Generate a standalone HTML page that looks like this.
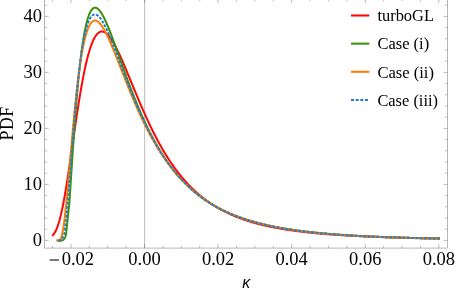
<!DOCTYPE html><html><head><meta charset="utf-8"><style>html,body{margin:0;padding:0;background:#fff;}svg{display:block;will-change:transform;}text{font-family:"Liberation Serif",serif;fill:#000;}text.kap{font-family:"Liberation Sans",sans-serif;font-style:italic;}</style></head><body>
<svg width="456" height="294" viewBox="0 0 456 294">
<rect width="456" height="294" fill="#fff"/>
<line x1="144.65" y1="-1.0" x2="144.65" y2="248.05" stroke="#aaa" stroke-width="0.8"/>
<rect x="44.6" y="-1.0" width="402.79999999999995" height="249.05" stroke="#666" stroke-width="0.47" fill="none"/>
<g stroke="#666" stroke-width="0.45" fill="none">
<line x1="52.52" y1="248.05" x2="52.52" y2="245.75"/>
<line x1="52.52" y1="-1.0" x2="52.52" y2="1.2999999999999998"/>
<line x1="70.92" y1="248.05" x2="70.92" y2="244.05"/>
<line x1="70.92" y1="-1.0" x2="70.92" y2="3.0"/>
<line x1="89.31" y1="248.05" x2="89.31" y2="245.75"/>
<line x1="89.31" y1="-1.0" x2="89.31" y2="1.2999999999999998"/>
<line x1="107.71" y1="248.05" x2="107.71" y2="245.75"/>
<line x1="107.71" y1="-1.0" x2="107.71" y2="1.2999999999999998"/>
<line x1="126.11" y1="248.05" x2="126.11" y2="245.75"/>
<line x1="126.11" y1="-1.0" x2="126.11" y2="1.2999999999999998"/>
<line x1="144.50" y1="248.05" x2="144.50" y2="244.05"/>
<line x1="144.50" y1="-1.0" x2="144.50" y2="3.0"/>
<line x1="162.90" y1="248.05" x2="162.90" y2="245.75"/>
<line x1="162.90" y1="-1.0" x2="162.90" y2="1.2999999999999998"/>
<line x1="181.29" y1="248.05" x2="181.29" y2="245.75"/>
<line x1="181.29" y1="-1.0" x2="181.29" y2="1.2999999999999998"/>
<line x1="199.69" y1="248.05" x2="199.69" y2="245.75"/>
<line x1="199.69" y1="-1.0" x2="199.69" y2="1.2999999999999998"/>
<line x1="218.08" y1="248.05" x2="218.08" y2="244.05"/>
<line x1="218.08" y1="-1.0" x2="218.08" y2="3.0"/>
<line x1="236.48" y1="248.05" x2="236.48" y2="245.75"/>
<line x1="236.48" y1="-1.0" x2="236.48" y2="1.2999999999999998"/>
<line x1="254.87" y1="248.05" x2="254.87" y2="245.75"/>
<line x1="254.87" y1="-1.0" x2="254.87" y2="1.2999999999999998"/>
<line x1="273.26" y1="248.05" x2="273.26" y2="245.75"/>
<line x1="273.26" y1="-1.0" x2="273.26" y2="1.2999999999999998"/>
<line x1="291.66" y1="248.05" x2="291.66" y2="244.05"/>
<line x1="291.66" y1="-1.0" x2="291.66" y2="3.0"/>
<line x1="310.06" y1="248.05" x2="310.06" y2="245.75"/>
<line x1="310.06" y1="-1.0" x2="310.06" y2="1.2999999999999998"/>
<line x1="328.45" y1="248.05" x2="328.45" y2="245.75"/>
<line x1="328.45" y1="-1.0" x2="328.45" y2="1.2999999999999998"/>
<line x1="346.85" y1="248.05" x2="346.85" y2="245.75"/>
<line x1="346.85" y1="-1.0" x2="346.85" y2="1.2999999999999998"/>
<line x1="365.24" y1="248.05" x2="365.24" y2="244.05"/>
<line x1="365.24" y1="-1.0" x2="365.24" y2="3.0"/>
<line x1="383.63" y1="248.05" x2="383.63" y2="245.75"/>
<line x1="383.63" y1="-1.0" x2="383.63" y2="1.2999999999999998"/>
<line x1="402.03" y1="248.05" x2="402.03" y2="245.75"/>
<line x1="402.03" y1="-1.0" x2="402.03" y2="1.2999999999999998"/>
<line x1="420.43" y1="248.05" x2="420.43" y2="245.75"/>
<line x1="420.43" y1="-1.0" x2="420.43" y2="1.2999999999999998"/>
<line x1="438.82" y1="248.05" x2="438.82" y2="244.05"/>
<line x1="438.82" y1="-1.0" x2="438.82" y2="3.0"/>
<line x1="44.6" y1="240.40" x2="48.6" y2="240.40"/>
<line x1="447.4" y1="240.40" x2="443.4" y2="240.40"/>
<line x1="44.6" y1="229.20" x2="46.9" y2="229.20"/>
<line x1="447.4" y1="229.20" x2="445.09999999999997" y2="229.20"/>
<line x1="44.6" y1="218.00" x2="46.9" y2="218.00"/>
<line x1="447.4" y1="218.00" x2="445.09999999999997" y2="218.00"/>
<line x1="44.6" y1="206.80" x2="46.9" y2="206.80"/>
<line x1="447.4" y1="206.80" x2="445.09999999999997" y2="206.80"/>
<line x1="44.6" y1="195.60" x2="46.9" y2="195.60"/>
<line x1="447.4" y1="195.60" x2="445.09999999999997" y2="195.60"/>
<line x1="44.6" y1="184.40" x2="48.6" y2="184.40"/>
<line x1="447.4" y1="184.40" x2="443.4" y2="184.40"/>
<line x1="44.6" y1="173.20" x2="46.9" y2="173.20"/>
<line x1="447.4" y1="173.20" x2="445.09999999999997" y2="173.20"/>
<line x1="44.6" y1="162.00" x2="46.9" y2="162.00"/>
<line x1="447.4" y1="162.00" x2="445.09999999999997" y2="162.00"/>
<line x1="44.6" y1="150.80" x2="46.9" y2="150.80"/>
<line x1="447.4" y1="150.80" x2="445.09999999999997" y2="150.80"/>
<line x1="44.6" y1="139.60" x2="46.9" y2="139.60"/>
<line x1="447.4" y1="139.60" x2="445.09999999999997" y2="139.60"/>
<line x1="44.6" y1="128.40" x2="48.6" y2="128.40"/>
<line x1="447.4" y1="128.40" x2="443.4" y2="128.40"/>
<line x1="44.6" y1="117.20" x2="46.9" y2="117.20"/>
<line x1="447.4" y1="117.20" x2="445.09999999999997" y2="117.20"/>
<line x1="44.6" y1="106.00" x2="46.9" y2="106.00"/>
<line x1="447.4" y1="106.00" x2="445.09999999999997" y2="106.00"/>
<line x1="44.6" y1="94.80" x2="46.9" y2="94.80"/>
<line x1="447.4" y1="94.80" x2="445.09999999999997" y2="94.80"/>
<line x1="44.6" y1="83.60" x2="46.9" y2="83.60"/>
<line x1="447.4" y1="83.60" x2="445.09999999999997" y2="83.60"/>
<line x1="44.6" y1="72.40" x2="48.6" y2="72.40"/>
<line x1="447.4" y1="72.40" x2="443.4" y2="72.40"/>
<line x1="44.6" y1="61.20" x2="46.9" y2="61.20"/>
<line x1="447.4" y1="61.20" x2="445.09999999999997" y2="61.20"/>
<line x1="44.6" y1="50.00" x2="46.9" y2="50.00"/>
<line x1="447.4" y1="50.00" x2="445.09999999999997" y2="50.00"/>
<line x1="44.6" y1="38.80" x2="46.9" y2="38.80"/>
<line x1="447.4" y1="38.80" x2="445.09999999999997" y2="38.80"/>
<line x1="44.6" y1="27.60" x2="46.9" y2="27.60"/>
<line x1="447.4" y1="27.60" x2="445.09999999999997" y2="27.60"/>
<line x1="44.6" y1="16.40" x2="48.6" y2="16.40"/>
<line x1="447.4" y1="16.40" x2="443.4" y2="16.40"/>
<line x1="44.6" y1="5.20" x2="46.9" y2="5.20"/>
<line x1="447.4" y1="5.20" x2="445.09999999999997" y2="5.20"/>
</g>
<path d="M52.10,235.81 L52.20,235.74 L52.30,235.66 L52.40,235.57 L52.50,235.48 L52.60,235.39 L52.70,235.30 L52.80,235.20 L52.90,235.10 L53.00,235.00 L53.10,234.89 L53.20,234.78 L53.30,234.67 L53.40,234.55 L53.50,234.43 L53.60,234.31 L53.70,234.18 L53.80,234.05 L53.90,233.91 L54.00,233.77 L54.10,233.63 L54.20,233.49 L54.30,233.34 L54.40,233.19 L54.50,233.03 L54.60,232.87 L54.70,232.71 L54.80,232.55 L54.90,232.38 L55.00,232.20 L55.10,232.02 L55.20,231.84 L55.30,231.66 L55.40,231.47 L55.50,231.28 L55.60,231.08 L55.70,230.88 L55.80,230.68 L55.90,230.47 L56.00,230.26 L56.10,230.04 L56.20,229.82 L56.30,229.60 L56.40,229.37 L56.50,229.14 L56.60,228.90 L56.70,228.66 L56.80,228.42 L56.90,228.17 L57.00,227.92 L57.10,227.66 L57.20,227.40 L57.30,227.14 L57.40,226.87 L57.50,226.60 L57.60,226.32 L57.70,226.04 L57.80,225.76 L57.90,225.47 L58.00,225.17 L58.10,224.87 L58.20,224.57 L58.30,224.26 L58.40,223.95 L58.50,223.64 L58.60,223.32 L58.70,223.00 L58.80,222.67 L58.90,222.33 L59.00,222.00 L59.10,221.66 L59.20,221.31 L59.30,220.96 L59.40,220.61 L59.50,220.25 L59.60,219.89 L59.70,219.52 L59.80,219.15 L59.90,218.77 L60.00,218.39 L60.10,218.01 L60.20,217.62 L60.30,217.23 L60.40,216.83 L60.50,216.43 L60.60,216.02 L60.70,215.61 L60.80,215.20 L60.90,214.78 L61.00,214.36 L61.10,213.93 L61.20,213.50 L61.30,213.06 L61.40,212.62 L61.50,212.18 L61.60,211.73 L61.70,211.28 L61.80,210.82 L61.90,210.36 L62.00,209.90 L62.10,209.43 L62.20,208.96 L62.30,208.48 L62.40,208.00 L62.50,207.52 L62.60,207.03 L62.70,206.54 L62.80,206.04 L62.90,205.54 L63.00,205.04 L63.10,204.53 L63.20,204.02 L63.30,203.50 L63.40,202.98 L63.50,202.46 L63.60,201.93 L63.70,201.40 L63.80,200.87 L63.90,200.33 L64.00,199.79 L64.10,199.25 L64.20,198.70 L64.30,198.15 L64.40,197.59 L64.50,197.04 L64.60,196.48 L64.70,195.91 L64.80,195.34 L64.90,194.77 L65.00,194.20 L65.10,193.62 L65.20,193.04 L65.30,192.45 L65.40,191.87 L65.50,191.28 L65.60,190.68 L65.70,190.09 L65.80,189.49 L65.90,188.89 L66.00,188.28 L66.10,187.67 L66.20,187.06 L66.30,186.45 L66.40,185.83 L66.50,185.21 L66.60,184.59 L66.70,183.97 L66.80,183.34 L66.90,182.71 L67.00,182.08 L67.10,181.45 L67.20,180.81 L67.30,180.18 L67.40,179.54 L67.50,178.89 L67.60,178.25 L67.70,177.60 L67.80,176.95 L67.90,176.30 L68.00,175.65 L68.10,174.99 L68.20,174.33 L68.30,173.68 L68.40,173.01 L68.50,172.35 L68.60,171.69 L68.70,171.02 L68.80,170.35 L68.90,169.68 L69.00,169.01 L69.10,168.34 L69.20,167.67 L69.30,166.99 L69.40,166.31 L69.50,165.64 L69.60,164.96 L69.70,164.28 L69.80,163.59 L69.90,162.91 L70.00,162.23 L70.10,161.54 L70.20,160.85 L70.30,160.17 L70.40,159.48 L70.50,158.79 L70.60,158.10 L70.70,157.41 L70.80,156.72 L70.90,156.02 L71.00,155.33 L71.10,154.64 L71.20,153.94 L71.30,153.25 L71.40,152.55 L71.50,151.86 L71.60,151.16 L71.70,150.46 L71.80,149.77 L71.90,149.07 L72.00,148.37 L72.10,147.67 L72.20,146.98 L72.30,146.28 L72.40,145.58 L72.50,144.88 L72.60,144.18 L72.70,143.49 L72.80,142.79 L72.90,142.09 L73.00,141.39 L73.10,140.69 L73.20,140.00 L73.30,139.30 L73.40,138.60 L73.50,137.91 L73.60,137.21 L73.70,136.51 L73.80,135.82 L73.90,135.12 L74.00,134.43 L74.10,133.74 L74.20,133.04 L74.30,132.35 L74.40,131.66 L74.50,130.97 L74.60,130.28 L74.70,129.59 L74.80,128.90 L74.90,128.21 L75.00,127.53 L75.10,126.84 L75.20,126.16 L75.30,125.47 L75.40,124.79 L75.50,124.11 L75.60,123.43 L75.70,122.75 L75.80,122.07 L75.90,121.40 L76.00,120.72 L76.10,120.05 L76.20,119.37 L76.30,118.70 L76.40,118.03 L76.50,117.36 L76.60,116.70 L76.70,116.03 L76.80,115.37 L76.90,114.70 L77.00,114.04 L77.10,113.38 L77.20,112.73 L77.30,112.07 L77.40,111.41 L77.50,110.76 L77.60,110.11 L77.70,109.46 L77.80,108.81 L77.90,108.17 L78.00,107.52 L78.10,106.88 L78.20,106.24 L78.30,105.60 L78.40,104.97 L78.50,104.33 L78.60,103.70 L78.70,103.07 L78.80,102.44 L78.90,101.82 L79.00,101.19 L79.10,100.57 L79.20,99.95 L79.30,99.33 L79.40,98.72 L79.50,98.11 L79.60,97.49 L79.70,96.89 L79.80,96.28 L79.90,95.68 L80.00,95.07 L80.10,94.47 L80.20,93.88 L80.30,93.28 L80.40,92.69 L80.50,92.10 L80.60,91.51 L80.70,90.93 L80.80,90.35 L80.90,89.77 L81.00,89.19 L81.10,88.61 L81.20,88.04 L81.30,87.47 L81.40,86.90 L81.50,86.34 L81.60,85.78 L81.70,85.22 L81.80,84.66 L81.90,84.11 L82.00,83.56 L82.10,83.01 L82.20,82.46 L82.30,81.92 L82.40,81.38 L82.50,80.84 L82.60,80.30 L82.70,79.77 L82.80,79.24 L82.90,78.72 L83.00,78.19 L83.10,77.67 L83.20,77.15 L83.30,76.64 L83.40,76.12 L83.50,75.61 L83.60,75.11 L83.70,74.60 L83.80,74.10 L83.90,73.60 L84.00,73.11 L84.10,72.61 L84.20,72.12 L84.30,71.64 L84.40,71.15 L84.50,70.67 L84.60,70.19 L84.70,69.72 L84.80,69.25 L84.90,68.78 L85.00,68.31 L85.10,67.85 L85.20,67.39 L85.30,66.93 L85.40,66.48 L85.50,66.03 L85.60,65.58 L85.70,65.13 L85.80,64.69 L85.90,64.25 L86.00,63.82 L86.10,63.38 L86.20,62.95 L86.30,62.53 L86.40,62.10 L86.50,61.68 L86.60,61.26 L86.70,60.85 L86.80,60.44 L86.90,60.03 L87.00,59.62 L87.10,59.22 L87.20,58.82 L87.30,58.43 L87.40,58.03 L87.50,57.64 L87.60,57.25 L87.70,56.87 L87.80,56.49 L87.90,56.11 L88.00,55.74 L88.10,55.37 L88.20,55.00 L88.30,54.63 L88.40,54.27 L88.50,53.91 L88.60,53.55 L88.70,53.20 L88.80,52.85 L88.90,52.50 L89.00,52.16 L89.10,51.82 L89.20,51.48 L89.30,51.14 L89.40,50.81 L89.50,50.48 L89.60,50.16 L89.70,49.84 L89.80,49.52 L89.90,49.20 L90.00,48.89 L90.10,48.57 L90.20,48.27 L90.30,47.96 L90.40,47.66 L90.50,47.36 L90.60,47.07 L90.70,46.78 L90.80,46.49 L90.90,46.20 L91.00,45.92 L91.10,45.64 L91.20,45.36 L91.30,45.09 L91.40,44.81 L91.50,44.55 L91.60,44.28 L91.70,44.02 L91.80,43.76 L91.90,43.50 L92.00,43.25 L92.10,43.00 L92.20,42.75 L92.30,42.51 L92.40,42.26 L92.50,42.03 L92.60,41.79 L92.70,41.56 L92.80,41.33 L92.90,41.10 L93.00,40.88 L93.10,40.65 L93.20,40.44 L93.30,40.22 L93.40,40.01 L93.50,39.80 L93.60,39.59 L93.70,39.39 L93.80,39.19 L93.90,38.99 L94.00,38.79 L94.10,38.60 L94.20,38.41 L94.30,38.22 L94.40,38.04 L94.50,37.86 L94.60,37.68 L94.70,37.50 L94.80,37.33 L94.90,37.16 L95.00,36.99 L95.10,36.83 L95.20,36.66 L95.30,36.50 L95.40,36.35 L95.50,36.19 L95.60,36.04 L95.70,35.89 L95.80,35.75 L95.90,35.60 L96.00,35.46 L96.10,35.32 L96.20,35.19 L96.30,35.06 L96.40,34.93 L96.50,34.80 L96.60,34.67 L96.70,34.55 L96.80,34.43 L96.90,34.31 L97.00,34.20 L97.10,34.09 L97.20,33.98 L97.30,33.87 L97.40,33.77 L97.50,33.66 L97.60,33.57 L97.70,33.47 L97.80,33.37 L97.90,33.28 L98.00,33.19 L98.10,33.11 L98.20,33.02 L98.30,32.94 L98.40,32.86 L98.50,32.78 L98.60,32.71 L98.70,32.64 L98.80,32.57 L98.90,32.50 L99.00,32.43 L99.10,32.37 L99.20,32.31 L99.30,32.25 L99.40,32.20 L99.50,32.14 L99.60,32.09 L99.70,32.04 L99.80,32.00 L99.90,31.95 L100.00,31.91 L100.10,31.87 L100.20,31.83 L100.30,31.80 L100.40,31.76 L100.50,31.73 L100.60,31.70 L100.70,31.68 L100.80,31.65 L100.90,31.63 L101.00,31.61 L101.10,31.59 L101.20,31.58 L101.30,31.57 L101.40,31.55 L101.50,31.54 L101.60,31.54 L101.70,31.53 L101.80,31.53 L101.90,31.53 L102.00,31.53 L102.10,31.53 L102.20,31.54 L102.30,31.55 L102.40,31.56 L102.50,31.57 L102.60,31.58 L102.70,31.60 L102.80,31.61 L102.90,31.63 L103.00,31.65 L103.10,31.68 L103.20,31.70 L103.30,31.73 L103.40,31.76 L103.50,31.79 L103.60,31.82 L103.70,31.86 L103.80,31.89 L103.90,31.93 L104.00,31.97 L104.10,32.02 L104.20,32.06 L104.30,32.11 L104.40,32.15 L104.50,32.20 L104.60,32.25 L104.70,32.31 L104.80,32.36 L104.90,32.42 L105.00,32.48 L105.10,32.54 L105.20,32.60 L105.30,32.66 L105.40,32.73 L105.50,32.80 L105.60,32.86 L105.70,32.93 L105.80,33.01 L105.90,33.08 L106.00,33.16 L106.10,33.23 L106.20,33.31 L106.30,33.39 L106.40,33.47 L106.50,33.56 L106.60,33.64 L106.70,33.73 L106.80,33.82 L106.90,33.91 L107.00,34.00 L107.10,34.09 L107.20,34.18 L107.30,34.28 L107.40,34.38 L107.50,34.48 L107.60,34.58 L107.70,34.68 L107.80,34.78 L107.90,34.89 L108.00,34.99 L108.10,35.10 L108.20,35.21 L108.30,35.32 L108.40,35.43 L108.50,35.55 L108.60,35.66 L108.70,35.78 L108.80,35.89 L108.90,36.01 L109.00,36.13 L109.10,36.25 L109.20,36.38 L109.30,36.50 L109.40,36.63 L109.50,36.75 L109.60,36.88 L109.70,37.01 L109.80,37.14 L109.90,37.27 L110.00,37.41 L110.10,37.54 L110.20,37.68 L110.30,37.82 L110.40,37.95 L110.50,38.09 L110.60,38.23 L110.70,38.38 L110.80,38.52 L110.90,38.66 L111.00,38.81 L111.10,38.95 L111.20,39.10 L111.30,39.25 L111.40,39.40 L111.50,39.55 L111.60,39.70 L111.70,39.86 L111.80,40.01 L111.90,40.17 L112.00,40.32 L112.10,40.48 L112.20,40.64 L112.30,40.80 L112.40,40.96 L112.50,41.12 L112.60,41.29 L112.70,41.45 L112.80,41.62 L112.90,41.78 L113.00,41.95 L113.10,42.12 L113.20,42.29 L113.30,42.46 L113.40,42.63 L113.50,42.80 L113.60,42.97 L113.70,43.15 L113.80,43.32 L113.90,43.50 L114.00,43.67 L114.10,43.85 L114.20,44.03 L114.30,44.21 L114.40,44.39 L114.50,44.57 L114.60,44.75 L114.70,44.93 L114.80,45.12 L114.90,45.30 L115.00,45.49 L115.10,45.67 L115.20,45.86 L115.30,46.05 L115.40,46.24 L115.50,46.43 L115.60,46.62 L115.70,46.81 L115.80,47.00 L115.90,47.19 L116.00,47.38 L116.10,47.58 L116.20,47.77 L116.30,47.97 L116.40,48.17 L116.50,48.36 L116.60,48.56 L116.70,48.76 L116.80,48.96 L116.90,49.16 L117.00,49.36 L117.10,49.56 L117.20,49.76 L117.30,49.96 L117.40,50.17 L117.50,50.37 L117.60,50.58 L117.70,50.78 L117.80,50.99 L117.90,51.19 L118.00,51.40 L118.10,51.61 L118.20,51.82 L118.30,52.03 L118.40,52.24 L118.50,52.45 L118.60,52.66 L118.70,52.87 L118.80,53.08 L118.90,53.29 L119.00,53.51 L119.10,53.72 L119.20,53.93 L119.30,54.15 L119.40,54.36 L119.50,54.58 L119.60,54.79 L119.70,55.01 L119.80,55.23 L119.90,55.45 L120.00,55.67 L120.10,55.88 L120.20,56.10 L120.30,56.32 L120.40,56.54 L120.50,56.76 L120.60,56.99 L120.70,57.21 L120.80,57.43 L120.90,57.65 L121.00,57.87 L121.10,58.10 L121.20,58.32 L121.30,58.55 L121.40,58.77 L121.50,59.00 L121.60,59.22 L121.70,59.45 L121.80,59.67 L121.90,59.90 L122.00,60.13 L122.10,60.36 L122.20,60.58 L122.30,60.81 L122.40,61.04 L122.50,61.27 L122.60,61.50 L122.70,61.73 L122.80,61.96 L122.90,62.19 L123.00,62.42 L123.10,62.65 L123.20,62.88 L123.30,63.11 L123.40,63.34 L123.50,63.58 L123.60,63.81 L123.70,64.04 L123.80,64.28 L123.90,64.51 L124.00,64.74 L124.10,64.98 L124.20,65.21 L124.30,65.45 L124.40,65.68 L124.50,65.92 L124.60,66.15 L124.70,66.39 L124.80,66.62 L124.90,66.86 L125.00,67.09 L125.10,67.33 L125.20,67.57 L125.30,67.80 L125.40,68.04 L125.50,68.28 L125.60,68.52 L125.70,68.75 L125.80,68.99 L125.90,69.23 L126.00,69.47 L126.10,69.71 L126.20,69.95 L126.30,70.19 L126.40,70.42 L126.50,70.66 L126.60,70.90 L126.70,71.14 L126.80,71.38 L126.90,71.62 L127.00,71.86 L127.10,72.10 L127.20,72.34 L127.30,72.58 L127.40,72.82 L127.50,73.07 L127.60,73.31 L127.70,73.55 L127.80,73.79 L127.90,74.03 L128.00,74.27 L128.10,74.51 L128.20,74.75 L128.30,75.00 L128.40,75.24 L128.50,75.48 L128.60,75.72 L128.70,75.96 L128.80,76.21 L128.90,76.45 L129.00,76.69 L129.10,76.93 L129.20,77.17 L129.30,77.42 L129.40,77.66 L129.50,77.90 L129.60,78.15 L129.70,78.39 L129.80,78.63 L129.90,78.87 L130.00,79.12 L130.50,80.33 L131.00,81.55 L131.50,82.76 L132.00,83.98 L132.50,85.19 L133.00,86.41 L133.50,87.62 L134.00,88.83 L134.50,90.04 L135.00,91.24 L135.50,92.45 L136.00,93.65 L136.50,94.85 L137.00,96.04 L137.50,97.24 L138.00,98.42 L138.50,99.61 L139.00,100.79 L139.50,101.96 L140.00,103.13 L140.50,104.30 L141.00,105.46 L141.50,106.61 L142.00,107.76 L142.50,108.91 L143.00,110.05 L143.50,111.18 L144.00,112.31 L144.50,113.43 L145.00,114.55 L145.50,115.65 L146.00,116.76 L146.50,117.85 L147.00,118.94 L147.50,120.03 L148.00,121.10 L148.50,122.17 L149.00,123.23 L149.50,124.29 L150.00,125.34 L150.50,126.38 L151.00,127.41 L151.50,128.44 L152.00,129.46 L152.50,130.47 L153.00,131.48 L153.50,132.48 L154.00,133.47 L154.50,134.45 L155.00,135.43 L155.50,136.39 L156.00,137.35 L156.50,138.31 L157.00,139.25 L157.50,140.19 L158.00,141.12 L158.50,142.05 L159.00,142.96 L159.50,143.87 L160.00,144.77 L160.50,145.66 L161.00,146.55 L161.50,147.43 L162.00,148.30 L162.50,149.16 L163.00,150.02 L163.50,150.87 L164.00,151.71 L164.50,152.54 L165.00,153.37 L165.50,154.19 L166.00,155.00 L166.50,155.81 L167.00,156.60 L167.50,157.40 L168.00,158.18 L168.50,158.95 L169.00,159.72 L169.50,160.49 L170.00,161.24 L170.50,161.99 L171.00,162.73 L171.50,163.47 L172.00,164.19 L172.50,164.91 L173.00,165.63 L173.50,166.34 L174.00,167.04 L174.50,167.73 L175.00,168.42 L175.50,169.10 L176.00,169.77 L176.50,170.44 L177.00,171.10 L177.50,171.76 L178.00,172.41 L178.50,173.05 L179.00,173.69 L179.50,174.32 L180.00,174.94 L180.50,175.56 L181.00,176.17 L181.50,176.78 L182.00,177.38 L182.50,177.97 L183.00,178.56 L183.50,179.14 L184.00,179.72 L184.50,180.29 L185.00,180.86 L185.50,181.42 L186.00,181.97 L186.50,182.52 L187.00,183.06 L187.50,183.60 L188.00,184.13 L188.50,184.66 L189.00,185.18 L189.50,185.70 L190.00,186.21 L190.50,186.72 L191.00,187.22 L191.50,187.72 L192.00,188.21 L192.50,188.69 L193.00,189.18 L193.50,189.65 L194.00,190.12 L194.50,190.59 L195.00,191.05 L195.50,191.51 L196.00,191.97 L196.50,192.41 L197.00,192.86 L197.50,193.30 L198.00,193.73 L198.50,194.16 L199.00,194.59 L199.50,195.01 L200.00,195.43 L200.50,195.84 L201.00,196.25 L201.50,196.66 L202.00,197.06 L202.50,197.46 L203.00,197.85 L203.50,198.24 L204.00,198.62 L204.50,199.00 L205.00,199.38 L205.50,199.76 L206.00,200.13 L206.50,200.49 L207.00,200.85 L207.50,201.21 L208.00,201.57 L208.50,201.92 L209.00,202.27 L209.50,202.61 L210.00,202.95 L210.50,203.29 L211.00,203.62 L211.50,203.95 L212.00,204.28 L212.50,204.60 L213.00,204.92 L213.50,205.24 L214.00,205.56 L214.50,205.87 L215.00,206.17 L215.50,206.48 L216.00,206.78 L216.50,207.08 L217.00,207.37 L217.50,207.67 L218.00,207.96 L218.50,208.24 L219.00,208.53 L219.50,208.81 L220.00,209.09 L220.50,209.36 L221.00,209.63 L221.50,209.90 L222.00,210.17 L222.50,210.43 L223.00,210.70 L223.50,210.96 L224.00,211.21 L224.50,211.47 L225.00,211.72 L225.50,211.97 L226.00,212.21 L226.50,212.46 L227.00,212.70 L227.50,212.94 L228.00,213.17 L228.50,213.41 L229.00,213.64 L229.50,213.87 L230.00,214.10 L230.50,214.32 L231.00,214.55 L231.50,214.77 L232.00,214.98 L232.50,215.20 L233.00,215.42 L233.50,215.63 L234.00,215.84 L234.50,216.04 L235.00,216.25 L235.50,216.45 L236.00,216.66 L236.50,216.86 L237.00,217.05 L237.50,217.25 L238.00,217.44 L238.50,217.64 L239.00,217.83 L239.50,218.01 L240.00,218.20 L240.50,218.39 L241.00,218.57 L241.50,218.75 L242.00,218.93 L242.50,219.11 L243.00,219.28 L243.50,219.46 L244.00,219.63 L244.50,219.80 L245.00,219.97 L245.50,220.14 L246.00,220.30 L246.50,220.47 L247.00,220.63 L247.50,220.79 L248.00,220.95 L248.50,221.11 L249.00,221.26 L249.50,221.42 L250.00,221.57 L250.50,221.72 L251.00,221.87 L251.50,222.02 L252.00,222.17 L252.50,222.32 L253.00,222.46 L253.50,222.61 L254.00,222.75 L254.50,222.89 L255.00,223.03 L255.50,223.17 L256.00,223.30 L256.50,223.44 L257.00,223.57 L257.50,223.71 L258.00,223.84 L258.50,223.97 L259.00,224.10 L259.50,224.22 L260.00,224.35 L260.50,224.48 L261.00,224.60 L261.50,224.73 L262.00,224.85 L262.50,224.97 L263.00,225.09 L263.50,225.21 L264.00,225.32 L264.50,225.44 L265.00,225.56 L265.50,225.67 L266.00,225.78 L266.50,225.90 L267.00,226.01 L267.50,226.12 L268.00,226.23 L268.50,226.33 L269.00,226.44 L269.50,226.55 L270.00,226.65 L270.50,226.76 L271.00,226.86 L271.50,226.96 L272.00,227.06 L272.50,227.16 L273.00,227.26 L273.50,227.36 L274.00,227.46 L274.50,227.56 L275.00,227.65 L275.50,227.75 L276.00,227.84 L276.50,227.94 L277.00,228.03 L277.50,228.12 L278.00,228.21 L278.50,228.30 L279.00,228.39 L279.50,228.48 L280.00,228.57 L280.50,228.65 L281.00,228.74 L281.50,228.82 L282.00,228.91 L282.50,228.99 L283.00,229.08 L283.50,229.16 L284.00,229.24 L284.50,229.32 L285.00,229.40 L285.50,229.48 L286.00,229.56 L286.50,229.64 L287.00,229.71 L287.50,229.79 L288.00,229.87 L288.50,229.94 L289.00,230.02 L289.50,230.09 L290.00,230.16 L290.50,230.24 L291.00,230.31 L291.50,230.38 L292.00,230.45 L292.50,230.52 L293.00,230.59 L293.50,230.66 L294.00,230.73 L294.50,230.80 L295.00,230.86 L295.50,230.93 L296.00,230.99 L296.50,231.06 L297.00,231.13 L297.50,231.19 L298.00,231.25 L298.50,231.32 L299.00,231.38 L299.50,231.44 L300.00,231.50 L300.50,231.56 L301.00,231.62 L301.50,231.68 L302.00,231.74 L302.50,231.80 L303.00,231.86 L303.50,231.92 L304.00,231.98 L304.50,232.03 L305.00,232.09 L305.50,232.15 L306.00,232.20 L306.50,232.26 L307.00,232.31 L307.50,232.37 L308.00,232.42 L308.50,232.47 L309.00,232.53 L309.50,232.58 L310.00,232.63 L310.50,232.68 L311.00,232.73 L311.50,232.78 L312.00,232.84 L312.50,232.89 L313.00,232.93 L313.50,232.98 L314.00,233.03 L314.50,233.08 L315.00,233.13 L315.50,233.18 L316.00,233.22 L316.50,233.27 L317.00,233.32 L317.50,233.36 L318.00,233.41 L318.50,233.45 L319.00,233.50 L319.50,233.54 L320.00,233.59 L320.50,233.63 L321.00,233.67 L321.50,233.72 L322.00,233.76 L322.50,233.80 L323.00,233.84 L323.50,233.88 L324.00,233.93 L324.50,233.97 L325.00,234.01 L325.50,234.05 L326.00,234.09 L326.50,234.13 L327.00,234.17 L327.50,234.21 L328.00,234.25 L328.50,234.28 L329.00,234.32 L329.50,234.36 L330.00,234.40 L330.50,234.43 L331.00,234.47 L331.50,234.51 L332.00,234.54 L332.50,234.58 L333.00,234.62 L333.50,234.65 L334.00,234.69 L334.50,234.72 L335.00,234.76 L335.50,234.79 L336.00,234.83 L336.50,234.86 L337.00,234.89 L337.50,234.93 L338.00,234.96 L338.50,234.99 L339.00,235.02 L339.50,235.06 L340.00,235.09 L340.50,235.12 L341.00,235.15 L341.50,235.18 L342.00,235.22 L342.50,235.25 L343.00,235.28 L343.50,235.31 L344.00,235.34 L344.50,235.37 L345.00,235.40 L345.50,235.43 L346.00,235.46 L346.50,235.48 L347.00,235.51 L347.50,235.54 L348.00,235.57 L348.50,235.60 L349.00,235.63 L349.50,235.65 L350.00,235.68 L350.50,235.71 L351.00,235.74 L351.50,235.76 L352.00,235.79 L352.50,235.82 L353.00,235.84 L353.50,235.87 L354.00,235.90 L354.50,235.92 L355.00,235.95 L355.50,235.97 L356.00,236.00 L356.50,236.02 L357.00,236.05 L357.50,236.07 L358.00,236.10 L358.50,236.12 L359.00,236.14 L359.50,236.17 L360.00,236.19 L360.50,236.22 L361.00,236.24 L361.50,236.26 L362.00,236.29 L362.50,236.31 L363.00,236.33 L363.50,236.35 L364.00,236.38 L364.50,236.40 L365.00,236.42 L365.50,236.44 L366.00,236.46 L366.50,236.49 L367.00,236.51 L367.50,236.53 L368.00,236.55 L368.50,236.57 L369.00,236.59 L369.50,236.61 L370.00,236.63 L370.50,236.65 L371.00,236.67 L371.50,236.69 L372.00,236.71 L372.50,236.73 L373.00,236.75 L373.50,236.77 L374.00,236.79 L374.50,236.81 L375.00,236.83 L375.50,236.85 L376.00,236.87 L376.50,236.89 L377.00,236.91 L377.50,236.92 L378.00,236.94 L378.50,236.96 L379.00,236.98 L379.50,237.00 L380.00,237.01 L380.50,237.03 L381.00,237.05 L381.50,237.07 L382.00,237.08 L382.50,237.10 L383.00,237.12 L383.50,237.14 L384.00,237.15 L384.50,237.17 L385.00,237.19 L385.50,237.20 L386.00,237.22 L386.50,237.23 L387.00,237.25 L387.50,237.27 L388.00,237.28 L388.50,237.30 L389.00,237.31 L389.50,237.33 L390.00,237.35 L390.50,237.36 L391.00,237.38 L391.50,237.39 L392.00,237.41 L392.50,237.42 L393.00,237.44 L393.50,237.45 L394.00,237.47 L394.50,237.48 L395.00,237.50 L395.50,237.51 L396.00,237.52 L396.50,237.54 L397.00,237.55 L397.50,237.57 L398.00,237.58 L398.50,237.59 L399.00,237.61 L399.50,237.62 L400.00,237.64 L400.50,237.65 L401.00,237.66 L401.50,237.68 L402.00,237.69 L402.50,237.70 L403.00,237.72 L403.50,237.73 L404.00,237.74 L404.50,237.75 L405.00,237.77 L405.50,237.78 L406.00,237.79 L406.50,237.80 L407.00,237.82 L407.50,237.83 L408.00,237.84 L408.50,237.85 L409.00,237.87 L409.50,237.88 L410.00,237.89 L410.50,237.90 L411.00,237.91 L411.50,237.93 L412.00,237.94 L412.50,237.95 L413.00,237.96 L413.50,237.97 L414.00,237.98 L414.50,237.99 L415.00,238.01 L415.50,238.02 L416.00,238.03 L416.50,238.04 L417.00,238.05 L417.50,238.06 L418.00,238.07 L418.50,238.08 L419.00,238.09 L419.50,238.10 L420.00,238.11 L420.50,238.12 L421.00,238.13 L421.50,238.14 L422.00,238.15 L422.50,238.16 L423.00,238.17 L423.50,238.18 L424.00,238.19 L424.50,238.20 L425.00,238.21 L425.50,238.22 L426.00,238.23 L426.50,238.24 L427.00,238.25 L427.50,238.26 L428.00,238.27 L428.50,238.28 L429.00,238.29 L429.50,238.30 L430.00,238.31 L430.50,238.32 L431.00,238.33 L431.50,238.34 L432.00,238.35 L432.50,238.36 L433.00,238.36 L433.50,238.37 L434.00,238.38 L434.50,238.39 L435.00,238.40 L435.50,238.41 L436.00,238.42 L436.50,238.43 L437.00,238.43 L437.50,238.44 L438.00,238.45 L438.50,238.46 L439.00,238.47 L439.50,238.48 L439.90,238.48" fill="none" stroke="#ff0505" stroke-width="2.0" stroke-linejoin="round"/>
<path d="M57.00,240.58 L57.54,240.59 L58.11,240.62 L58.70,240.65 L59.30,240.67 L59.90,240.68 L60.50,240.66 L61.10,240.60 L61.67,240.50 L62.22,240.33 L62.74,240.11 L63.22,239.83 L63.66,239.49 L64.06,239.10 L64.41,238.66 L64.72,238.18 L64.98,237.66 L65.20,237.12 L65.40,236.55 L65.57,235.98 L65.71,235.41 L65.84,234.84 L65.95,234.27 L66.05,233.69 L66.14,233.12 L66.22,232.55 L66.29,231.97 L66.35,231.40 L66.41,230.82 L66.48,230.25 L66.54,229.68 L66.60,229.10 L66.66,228.53 L66.72,227.95 L66.78,227.37 L66.84,226.80 L66.89,226.22 L66.95,225.65 L67.01,225.07 L67.07,224.50 L67.13,223.92 L67.19,223.34 L67.25,222.77 L67.31,222.19 L67.37,221.61 L67.42,221.04 L67.48,220.46 L67.54,219.89 L67.60,219.31 L67.66,218.73 L67.73,218.16 L67.79,217.58 L67.85,217.00 L67.91,216.43 L67.97,215.85 L68.03,215.28 L68.10,214.70 L68.16,214.12 L68.23,213.55 L68.29,212.97 L68.36,212.40 L68.42,211.82 L68.49,211.24 L68.55,210.67 L68.62,210.09 L68.68,209.52 L68.75,208.94 L68.81,208.37 L68.87,207.79 L68.93,207.21 L69.00,206.64 L69.06,206.06 L69.11,205.49 L69.17,204.91 L69.23,204.33 L69.28,203.76 L69.34,203.18 L69.40,202.73 L69.50,201.23 L69.60,199.72 L69.70,198.21 L69.80,196.70 L69.90,195.18 L70.00,193.66 L70.10,192.13 L70.20,190.61 L70.30,189.07 L70.40,187.54 L70.50,186.01 L70.60,184.47 L70.70,182.94 L70.80,181.40 L70.90,179.86 L71.00,178.33 L71.10,176.79 L71.20,175.26 L71.30,173.72 L71.40,172.19 L71.50,170.66 L71.60,169.13 L71.70,167.61 L71.80,166.09 L71.90,164.57 L72.00,163.05 L72.10,161.54 L72.20,160.03 L72.30,158.53 L72.40,157.03 L72.50,155.53 L72.60,154.04 L72.70,152.56 L72.80,151.08 L72.90,149.60 L73.00,148.13 L73.10,146.67 L73.20,145.21 L73.30,143.76 L73.40,142.31 L73.50,140.87 L73.60,139.44 L73.70,138.01 L73.80,136.59 L73.90,135.17 L74.00,133.77 L74.10,132.37 L74.20,130.97 L74.30,129.59 L74.40,128.21 L74.50,126.84 L74.60,125.47 L74.70,124.12 L74.80,122.77 L74.90,121.43 L75.00,120.10 L75.10,118.77 L75.20,117.46 L75.30,116.15 L75.40,114.85 L75.50,113.55 L75.60,112.27 L75.70,111.00 L75.80,109.73 L75.90,108.47 L76.00,107.22 L76.10,105.98 L76.20,104.74 L76.30,103.52 L76.40,102.30 L76.50,101.10 L76.60,99.90 L76.70,98.71 L76.80,97.53 L76.90,96.35 L77.00,95.19 L77.10,94.04 L77.20,92.89 L77.30,91.75 L77.40,90.62 L77.50,89.50 L77.60,88.39 L77.70,87.29 L77.80,86.20 L77.90,85.12 L78.00,84.04 L78.10,82.98 L78.20,81.92 L78.30,80.87 L78.40,79.83 L78.50,78.80 L78.60,77.78 L78.70,76.77 L78.80,75.76 L78.90,74.77 L79.00,73.78 L79.10,72.80 L79.20,71.84 L79.30,70.88 L79.40,69.93 L79.50,68.98 L79.60,68.05 L79.70,67.13 L79.80,66.21 L79.90,65.30 L80.00,64.40 L80.10,63.51 L80.20,62.63 L80.30,61.76 L80.40,60.90 L80.50,60.04 L80.60,59.19 L80.70,58.36 L80.80,57.53 L80.90,56.71 L81.00,55.89 L81.10,55.09 L81.20,54.29 L81.30,53.50 L81.40,52.72 L81.50,51.95 L81.60,51.19 L81.70,50.43 L81.80,49.69 L81.90,48.95 L82.00,48.22 L82.10,47.50 L82.20,46.78 L82.30,46.08 L82.40,45.38 L82.50,44.69 L82.60,44.00 L82.70,43.33 L82.80,42.66 L82.90,42.00 L83.00,41.35 L83.10,40.71 L83.20,40.07 L83.30,39.44 L83.40,38.82 L83.50,38.21 L83.60,37.60 L83.70,37.01 L83.80,36.41 L83.90,35.83 L84.00,35.25 L84.10,34.69 L84.20,34.12 L84.30,33.57 L84.40,33.02 L84.50,32.48 L84.60,31.95 L84.70,31.42 L84.80,30.91 L84.90,30.39 L85.00,29.89 L85.10,29.39 L85.20,28.90 L85.30,28.42 L85.40,27.94 L85.50,27.47 L85.60,27.00 L85.70,26.55 L85.80,26.10 L85.90,25.65 L86.00,25.21 L86.10,24.78 L86.20,24.36 L86.30,23.94 L86.40,23.53 L86.50,23.12 L86.60,22.72 L86.70,22.33 L86.80,21.94 L86.90,21.56 L87.00,21.19 L87.10,20.82 L87.20,20.46 L87.30,20.10 L87.40,19.75 L87.50,19.41 L87.60,19.07 L87.70,18.74 L87.80,18.41 L87.90,18.09 L88.00,17.77 L88.10,17.46 L88.20,17.16 L88.30,16.86 L88.40,16.57 L88.50,16.28 L88.60,16.00 L88.70,15.72 L88.80,15.45 L88.90,15.19 L89.00,14.93 L89.10,14.67 L89.20,14.42 L89.30,14.18 L89.40,13.94 L89.50,13.70 L89.60,13.48 L89.70,13.25 L89.80,13.03 L89.90,12.82 L90.00,12.61 L90.10,12.41 L90.20,12.21 L90.30,12.01 L90.40,11.82 L90.50,11.64 L90.60,11.46 L90.70,11.28 L90.80,11.11 L90.90,10.95 L91.00,10.79 L91.10,10.63 L91.20,10.48 L91.30,10.33 L91.40,10.19 L91.50,10.05 L91.60,9.91 L91.70,9.78 L91.80,9.66 L91.90,9.54 L92.00,9.42 L92.10,9.31 L92.20,9.20 L92.30,9.09 L92.40,8.99 L92.50,8.90 L92.60,8.81 L92.70,8.72 L92.80,8.63 L92.90,8.55 L93.00,8.48 L93.10,8.40 L93.20,8.34 L93.30,8.27 L93.40,8.21 L93.50,8.15 L93.60,8.10 L93.70,8.05 L93.80,8.00 L93.90,7.96 L94.00,7.92 L94.10,7.89 L94.20,7.86 L94.30,7.83 L94.40,7.80 L94.50,7.78 L94.60,7.76 L94.70,7.75 L94.80,7.74 L94.90,7.73 L95.00,7.73 L95.10,7.73 L95.20,7.73 L95.30,7.73 L95.40,7.74 L95.50,7.75 L95.60,7.77 L95.70,7.79 L95.80,7.81 L95.90,7.83 L96.00,7.86 L96.10,7.89 L96.20,7.92 L96.30,7.96 L96.40,8.00 L96.50,8.04 L96.60,8.09 L96.70,8.14 L96.80,8.19 L96.90,8.24 L97.00,8.30 L97.10,8.36 L97.20,8.42 L97.30,8.48 L97.40,8.55 L97.50,8.62 L97.60,8.69 L97.70,8.77 L97.80,8.84 L97.90,8.92 L98.00,9.01 L98.10,9.09 L98.20,9.18 L98.30,9.27 L98.40,9.36 L98.50,9.46 L98.60,9.56 L98.70,9.66 L98.80,9.76 L98.90,9.86 L99.00,9.97 L99.10,10.08 L99.20,10.19 L99.30,10.30 L99.40,10.42 L99.50,10.54 L99.60,10.66 L99.70,10.78 L99.80,10.90 L99.90,11.03 L100.00,11.16 L100.10,11.29 L100.20,11.42 L100.30,11.56 L100.40,11.70 L100.50,11.84 L100.60,11.98 L100.70,12.12 L100.80,12.26 L100.90,12.41 L101.00,12.56 L101.10,12.71 L101.20,12.86 L101.30,13.02 L101.40,13.17 L101.50,13.33 L101.60,13.49 L101.70,13.65 L101.80,13.81 L101.90,13.98 L102.00,14.15 L102.10,14.31 L102.20,14.48 L102.30,14.65 L102.40,14.83 L102.50,15.00 L102.60,15.18 L102.70,15.36 L102.80,15.54 L102.90,15.72 L103.00,15.90 L103.10,16.08 L103.20,16.27 L103.30,16.46 L103.40,16.65 L103.50,16.84 L103.60,17.03 L103.70,17.22 L103.80,17.41 L103.90,17.61 L104.00,17.81 L104.10,18.01 L104.20,18.21 L104.30,18.41 L104.40,18.61 L104.50,18.81 L104.60,19.02 L104.70,19.22 L104.80,19.43 L104.90,19.64 L105.00,19.85 L105.10,20.06 L105.20,20.28 L105.30,20.49 L105.40,20.70 L105.50,20.92 L105.60,21.14 L105.70,21.35 L105.80,21.57 L105.90,21.79 L106.00,22.02 L106.10,22.24 L106.20,22.46 L106.30,22.69 L106.40,22.91 L106.50,23.14 L106.60,23.37 L106.70,23.60 L106.80,23.83 L106.90,24.06 L107.00,24.29 L107.10,24.52 L107.20,24.76 L107.30,24.99 L107.40,25.23 L107.50,25.46 L107.60,25.70 L107.70,25.94 L107.80,26.18 L107.90,26.42 L108.00,26.66 L108.10,26.90 L108.20,27.14 L108.30,27.38 L108.40,27.63 L108.50,27.87 L108.60,28.12 L108.70,28.36 L108.80,28.61 L108.90,28.86 L109.00,29.11 L109.10,29.36 L109.20,29.61 L109.30,29.86 L109.40,30.11 L109.50,30.36 L109.60,30.61 L109.70,30.87 L109.80,31.12 L109.90,31.37 L110.00,31.63 L110.10,31.89 L110.20,32.14 L110.30,32.40 L110.40,32.66 L110.50,32.92 L110.60,33.17 L110.70,33.43 L110.80,33.69 L110.90,33.95 L111.00,34.22 L111.10,34.48 L111.20,34.74 L111.30,35.00 L111.40,35.27 L111.50,35.53 L111.60,35.79 L111.70,36.06 L111.80,36.32 L111.90,36.59 L112.00,36.85 L112.10,37.12 L112.20,37.39 L112.30,37.66 L112.40,37.92 L112.50,38.19 L112.60,38.46 L112.70,38.73 L112.80,39.00 L112.90,39.27 L113.00,39.54 L113.10,39.81 L113.20,40.08 L113.30,40.35 L113.40,40.62 L113.50,40.89 L113.60,41.17 L113.70,41.44 L113.80,41.71 L113.90,41.98 L114.00,42.26 L114.10,42.53 L114.20,42.81 L114.30,43.08 L114.40,43.36 L114.50,43.63 L114.60,43.91 L114.70,44.18 L114.80,44.46 L114.90,44.73 L115.00,45.01 L115.10,45.28 L115.20,45.56 L115.30,45.84 L115.40,46.12 L115.50,46.39 L115.60,46.67 L115.70,46.95 L115.80,47.23 L115.90,47.50 L116.00,47.78 L116.10,48.06 L116.20,48.34 L116.30,48.62 L116.40,48.90 L116.50,49.18 L116.60,49.45 L116.70,49.73 L116.80,50.01 L116.90,50.29 L117.00,50.57 L117.10,50.85 L117.20,51.13 L117.30,51.41 L117.40,51.69 L117.50,51.97 L117.60,52.25 L117.70,52.53 L117.80,52.81 L117.90,53.09 L118.00,53.37 L118.10,53.65 L118.20,53.94 L118.30,54.22 L118.40,54.50 L118.50,54.78 L118.60,55.06 L118.70,55.34 L118.80,55.62 L118.90,55.90 L119.00,56.18 L119.10,56.46 L119.20,56.74 L119.30,57.03 L119.40,57.31 L119.50,57.59 L119.60,57.87 L119.70,58.15 L119.80,58.43 L119.90,58.71 L120.00,58.99 L120.10,59.27 L120.20,59.55 L120.30,59.84 L120.40,60.12 L120.50,60.40 L120.60,60.68 L120.70,60.96 L120.80,61.24 L120.90,61.52 L121.00,61.80 L121.10,62.08 L121.20,62.36 L121.30,62.64 L121.40,62.92 L121.50,63.20 L121.60,63.48 L121.70,63.76 L121.80,64.04 L121.90,64.32 L122.00,64.60 L122.10,64.88 L122.20,65.16 L122.30,65.44 L122.40,65.72 L122.50,66.00 L122.60,66.28 L122.70,66.56 L122.80,66.84 L122.90,67.11 L123.00,67.39 L123.10,67.67 L123.20,67.95 L123.30,68.23 L123.40,68.51 L123.50,68.78 L123.60,69.06 L123.70,69.34 L123.80,69.62 L123.90,69.90 L124.00,70.17 L124.10,70.45 L124.20,70.73 L124.30,71.00 L124.40,71.28 L124.50,71.56 L124.60,71.83 L124.70,72.11 L124.80,72.38 L124.90,72.66 L125.00,72.94 L125.10,73.21 L125.20,73.49 L125.30,73.76 L125.40,74.04 L125.50,74.31 L125.60,74.59 L125.70,74.86 L125.80,75.13 L125.90,75.41 L126.00,75.68 L126.10,75.95 L126.20,76.23 L126.30,76.50 L126.40,76.77 L126.50,77.05 L126.60,77.32 L126.70,77.59 L126.80,77.86 L126.90,78.13 L127.00,78.41 L127.10,78.68 L127.20,78.95 L127.30,79.22 L127.40,79.49 L127.50,79.76 L127.60,80.03 L127.70,80.30 L127.80,80.57 L127.90,80.84 L128.00,81.11 L128.10,81.38 L128.20,81.64 L128.30,81.91 L128.40,82.18 L128.50,82.45 L128.60,82.72 L128.70,82.98 L128.80,83.25 L128.90,83.52 L129.00,83.78 L129.10,84.05 L129.20,84.32 L129.30,84.58 L129.40,84.85 L129.50,85.11 L129.60,85.38 L129.70,85.64 L129.80,85.91 L129.90,86.17 L130.00,86.43 L130.50,87.75 L131.00,89.06 L131.50,90.36 L132.00,91.65 L132.50,92.94 L133.00,94.22 L133.50,95.49 L134.00,96.75 L134.50,98.00 L135.00,99.25 L135.50,100.49 L136.00,101.72 L136.50,102.94 L137.00,104.15 L137.50,105.35 L138.00,106.55 L138.50,107.74 L139.00,108.92 L139.50,110.09 L140.00,111.25 L140.50,112.40 L141.00,113.54 L141.50,114.68 L142.00,115.81 L142.50,116.92 L143.00,118.03 L143.50,119.13 L144.00,120.22 L144.50,121.30 L145.00,122.38 L145.50,123.44 L146.00,124.50 L146.50,125.54 L147.00,126.58 L147.50,127.61 L148.00,128.63 L148.50,129.64 L149.00,130.65 L149.50,131.64 L150.00,132.63 L150.50,133.61 L151.00,134.58 L151.50,135.54 L152.00,136.49 L152.50,137.43 L153.00,138.37 L153.50,139.29 L154.00,140.21 L154.50,141.12 L155.00,142.03 L155.50,142.92 L156.00,143.81 L156.50,144.68 L157.00,145.55 L157.50,146.42 L158.00,147.27 L158.50,148.12 L159.00,148.95 L159.50,149.78 L160.00,150.61 L160.50,151.42 L161.00,152.23 L161.50,153.03 L162.00,153.82 L162.50,154.61 L163.00,155.39 L163.50,156.16 L164.00,156.92 L164.50,157.68 L165.00,158.42 L165.50,159.17 L166.00,159.90 L166.50,160.63 L167.00,161.35 L167.50,162.06 L168.00,162.77 L168.50,163.47 L169.00,164.17 L169.50,164.85 L170.00,165.53 L170.50,166.21 L171.00,166.87 L171.50,167.54 L172.00,168.19 L172.50,168.84 L173.00,169.48 L173.50,170.12 L174.00,170.75 L174.50,171.37 L175.00,171.99 L175.50,172.60 L176.00,173.21 L176.50,173.81 L177.00,174.40 L177.50,174.99 L178.00,175.57 L178.50,176.15 L179.00,176.72 L179.50,177.29 L180.00,177.85 L180.50,178.40 L181.00,178.95 L181.50,179.50 L182.00,180.04 L182.50,180.57 L183.00,181.10 L183.50,181.62 L184.00,182.14 L184.50,182.66 L185.00,183.16 L185.50,183.67 L186.00,184.17 L186.50,184.66 L187.00,185.15 L187.50,185.63 L188.00,186.11 L188.50,186.59 L189.00,187.06 L189.50,187.53 L190.00,187.99 L190.50,188.44 L191.00,188.90 L191.50,189.34 L192.00,189.79 L192.50,190.23 L193.00,190.66 L193.50,191.09 L194.00,191.52 L194.50,191.94 L195.00,192.36 L195.50,192.78 L196.00,193.19 L196.50,193.59 L197.00,194.00 L197.50,194.40 L198.00,194.79 L198.50,195.18 L199.00,195.57 L199.50,195.95 L200.00,196.33 L200.50,196.71 L201.00,197.08 L201.50,197.45 L202.00,197.82 L202.50,198.18 L203.00,198.54 L203.50,198.89 L204.00,199.25 L204.50,199.59 L205.00,199.94 L205.50,200.28 L206.00,200.62 L206.50,200.96 L207.00,201.29 L207.50,201.62 L208.00,201.94 L208.50,202.27 L209.00,202.59 L209.50,202.90 L210.00,203.22 L210.50,203.53 L211.00,203.83 L211.50,204.14 L212.00,204.44 L212.50,204.74 L213.00,205.04 L213.50,205.33 L214.00,205.62 L214.50,205.91 L215.00,206.19 L215.50,206.48 L216.00,206.76 L216.50,207.03 L217.00,207.31 L217.50,207.58 L218.00,207.85 L218.50,208.12 L219.00,208.38 L219.50,208.64 L220.00,208.90 L220.50,209.16 L221.00,209.42 L221.50,209.67 L222.00,209.92 L222.50,210.17 L223.00,210.41 L223.50,210.65 L224.00,210.90 L224.50,211.13 L225.00,211.37 L225.50,211.61 L226.00,211.84 L226.50,212.07 L227.00,212.30 L227.50,212.52 L228.00,212.74 L228.50,212.97 L229.00,213.19 L229.50,213.40 L230.00,213.62 L230.50,213.83 L231.00,214.04 L231.50,214.25 L232.00,214.46 L232.50,214.67 L233.00,214.87 L233.50,215.07 L234.00,215.27 L234.50,215.47 L235.00,215.67 L235.50,215.86 L236.00,216.06 L236.50,216.25 L237.00,216.44 L237.50,216.63 L238.00,216.81 L238.50,217.00 L239.00,217.18 L239.50,217.36 L240.00,217.54 L240.50,217.72 L241.00,217.90 L241.50,218.07 L242.00,218.24 L242.50,218.42 L243.00,218.59 L243.50,218.75 L244.00,218.92 L244.50,219.09 L245.00,219.25 L245.50,219.41 L246.00,219.57 L246.50,219.73 L247.00,219.89 L247.50,220.05 L248.00,220.21 L248.50,220.36 L249.00,220.51 L249.50,220.66 L250.00,220.81 L250.50,220.96 L251.00,221.11 L251.50,221.26 L252.00,221.40 L252.50,221.55 L253.00,221.69 L253.50,221.83 L254.00,221.97 L254.50,222.11 L255.00,222.25 L255.50,222.38 L256.00,222.52 L256.50,222.65 L257.00,222.78 L257.50,222.92 L258.00,223.05 L258.50,223.18 L259.00,223.30 L259.50,223.43 L260.00,223.56 L260.50,223.68 L261.00,223.81 L261.50,223.93 L262.00,224.05 L262.50,224.17 L263.00,224.29 L263.50,224.41 L264.00,224.53 L264.50,224.64 L265.00,224.76 L265.50,224.87 L266.00,224.99 L266.50,225.10 L267.00,225.21 L267.50,225.32 L268.00,225.43 L268.50,225.54 L269.00,225.65 L269.50,225.76 L270.00,225.86 L270.50,225.97 L271.00,226.07 L271.50,226.18 L272.00,226.28 L272.50,226.38 L273.00,226.48 L273.50,226.58 L274.00,226.68 L274.50,226.78 L275.00,226.88 L275.50,226.97 L276.00,227.07 L276.50,227.17 L277.00,227.26 L277.50,227.35 L278.00,227.45 L278.50,227.54 L279.00,227.63 L279.50,227.72 L280.00,227.81 L280.50,227.90 L281.00,227.99 L281.50,228.07 L282.00,228.16 L282.50,228.25 L283.00,228.33 L283.50,228.42 L284.00,228.50 L284.50,228.59 L285.00,228.67 L285.50,228.75 L286.00,228.83 L286.50,228.91 L287.00,228.99 L287.50,229.07 L288.00,229.15 L288.50,229.23 L289.00,229.31 L289.50,229.38 L290.00,229.46 L290.50,229.53 L291.00,229.61 L291.50,229.68 L292.00,229.76 L292.50,229.83 L293.00,229.90 L293.50,229.97 L294.00,230.05 L294.50,230.12 L295.00,230.19 L295.50,230.26 L296.00,230.33 L296.50,230.39 L297.00,230.46 L297.50,230.53 L298.00,230.60 L298.50,230.66 L299.00,230.73 L299.50,230.80 L300.00,230.86 L300.50,230.92 L301.00,230.99 L301.50,231.05 L302.00,231.11 L302.50,231.18 L303.00,231.24 L303.50,231.30 L304.00,231.36 L304.50,231.42 L305.00,231.48 L305.50,231.54 L306.00,231.60 L306.50,231.66 L307.00,231.72 L307.50,231.77 L308.00,231.83 L308.50,231.89 L309.00,231.94 L309.50,232.00 L310.00,232.06 L310.50,232.11 L311.00,232.16 L311.50,232.22 L312.00,232.27 L312.50,232.33 L313.00,232.38 L313.50,232.43 L314.00,232.48 L314.50,232.54 L315.00,232.59 L315.50,232.64 L316.00,232.69 L316.50,232.74 L317.00,232.79 L317.50,232.84 L318.00,232.89 L318.50,232.93 L319.00,232.98 L319.50,233.03 L320.00,233.08 L320.50,233.13 L321.00,233.17 L321.50,233.22 L322.00,233.27 L322.50,233.31 L323.00,233.36 L323.50,233.40 L324.00,233.45 L324.50,233.49 L325.00,233.53 L325.50,233.58 L326.00,233.62 L326.50,233.66 L327.00,233.71 L327.50,233.75 L328.00,233.79 L328.50,233.83 L329.00,233.88 L329.50,233.92 L330.00,233.96 L330.50,234.00 L331.00,234.04 L331.50,234.08 L332.00,234.12 L332.50,234.16 L333.00,234.20 L333.50,234.24 L334.00,234.27 L334.50,234.31 L335.00,234.35 L335.50,234.39 L336.00,234.42 L336.50,234.46 L337.00,234.50 L337.50,234.54 L338.00,234.57 L338.50,234.61 L339.00,234.64 L339.50,234.68 L340.00,234.71 L340.50,234.75 L341.00,234.78 L341.50,234.82 L342.00,234.85 L342.50,234.89 L343.00,234.92 L343.50,234.95 L344.00,234.99 L344.50,235.02 L345.00,235.05 L345.50,235.09 L346.00,235.12 L346.50,235.15 L347.00,235.18 L347.50,235.21 L348.00,235.25 L348.50,235.28 L349.00,235.31 L349.50,235.34 L350.00,235.37 L350.50,235.40 L351.00,235.43 L351.50,235.46 L352.00,235.49 L352.50,235.52 L353.00,235.55 L353.50,235.58 L354.00,235.60 L354.50,235.63 L355.00,235.66 L355.50,235.69 L356.00,235.72 L356.50,235.75 L357.00,235.77 L357.50,235.80 L358.00,235.83 L358.50,235.86 L359.00,235.88 L359.50,235.91 L360.00,235.94 L360.50,235.96 L361.00,235.99 L361.50,236.01 L362.00,236.04 L362.50,236.07 L363.00,236.09 L363.50,236.12 L364.00,236.14 L364.50,236.17 L365.00,236.19 L365.50,236.21 L366.00,236.24 L366.50,236.26 L367.00,236.29 L367.50,236.31 L368.00,236.34 L368.50,236.36 L369.00,236.38 L369.50,236.41 L370.00,236.43 L370.50,236.45 L371.00,236.47 L371.50,236.50 L372.00,236.52 L372.50,236.54 L373.00,236.56 L373.50,236.59 L374.00,236.61 L374.50,236.63 L375.00,236.65 L375.50,236.67 L376.00,236.69 L376.50,236.71 L377.00,236.74 L377.50,236.76 L378.00,236.78 L378.50,236.80 L379.00,236.82 L379.50,236.84 L380.00,236.86 L380.50,236.88 L381.00,236.90 L381.50,236.92 L382.00,236.94 L382.50,236.96 L383.00,236.98 L383.50,237.00 L384.00,237.01 L384.50,237.03 L385.00,237.05 L385.50,237.07 L386.00,237.09 L386.50,237.11 L387.00,237.13 L387.50,237.14 L388.00,237.16 L388.50,237.18 L389.00,237.20 L389.50,237.22 L390.00,237.23 L390.50,237.25 L391.00,237.27 L391.50,237.29 L392.00,237.30 L392.50,237.32 L393.00,237.34 L393.50,237.35 L394.00,237.37 L394.50,237.39 L395.00,237.40 L395.50,237.42 L396.00,237.44 L396.50,237.45 L397.00,237.47 L397.50,237.48 L398.00,237.50 L398.50,237.52 L399.00,237.53 L399.50,237.55 L400.00,237.56 L400.50,237.58 L401.00,237.59 L401.50,237.61 L402.00,237.62 L402.50,237.64 L403.00,237.65 L403.50,237.67 L404.00,237.68 L404.50,237.70 L405.00,237.71 L405.50,237.73 L406.00,237.74 L406.50,237.76 L407.00,237.77 L407.50,237.78 L408.00,237.80 L408.50,237.81 L409.00,237.82 L409.50,237.84 L410.00,237.85 L410.50,237.87 L411.00,237.88 L411.50,237.89 L412.00,237.91 L412.50,237.92 L413.00,237.93 L413.50,237.95 L414.00,237.96 L414.50,237.97 L415.00,237.98 L415.50,238.00 L416.00,238.01 L416.50,238.02 L417.00,238.03 L417.50,238.05 L418.00,238.06 L418.50,238.07 L419.00,238.08 L419.50,238.10 L420.00,238.11 L420.50,238.12 L421.00,238.13 L421.50,238.14 L422.00,238.15 L422.50,238.17 L423.00,238.18 L423.50,238.19 L424.00,238.20 L424.50,238.21 L425.00,238.22 L425.50,238.23 L426.00,238.25 L426.50,238.26 L427.00,238.27 L427.50,238.28 L428.00,238.29 L428.50,238.30 L429.00,238.31 L429.50,238.32 L430.00,238.33 L430.50,238.34 L431.00,238.35 L431.50,238.36 L432.00,238.37 L432.50,238.38 L433.00,238.39 L433.50,238.40 L434.00,238.41 L434.50,238.42 L435.00,238.43 L435.50,238.44 L436.00,238.45 L436.50,238.46 L437.00,238.47 L437.50,238.48 L438.00,238.49 L438.50,238.50 L439.00,238.51 L439.50,238.52 L439.90,238.53" fill="none" stroke="#3c910a" stroke-width="2.0" stroke-linejoin="round"/>
<path d="M56.20,240.40 L56.30,240.40 L56.40,240.40 L56.50,240.40 L56.60,240.40 L56.70,240.40 L56.80,240.40 L56.90,240.40 L57.00,240.40 L57.10,240.40 L57.20,240.40 L57.30,240.40 L57.40,240.40 L57.50,240.40 L57.60,240.40 L57.70,240.40 L57.80,240.40 L57.90,240.40 L58.00,240.40 L58.10,240.40 L58.20,240.39 L58.30,240.39 L58.40,240.39 L58.50,240.38 L58.60,240.37 L58.70,240.36 L58.80,240.34 L58.90,240.32 L59.00,240.30 L59.10,240.27 L59.20,240.23 L59.30,240.19 L59.40,240.14 L59.50,240.09 L59.60,240.02 L59.70,239.95 L59.80,239.87 L59.90,239.78 L60.00,239.67 L60.10,239.56 L60.20,239.43 L60.30,239.30 L60.40,239.15 L60.50,238.98 L60.60,238.81 L60.70,238.62 L60.80,238.41 L60.90,238.19 L61.00,237.96 L61.10,237.71 L61.20,237.44 L61.30,237.16 L61.40,236.86 L61.50,236.55 L61.60,236.22 L61.70,235.87 L61.80,235.51 L61.90,235.13 L62.00,234.73 L62.10,234.32 L62.20,233.89 L62.30,233.44 L62.40,232.98 L62.50,232.49 L62.60,231.99 L62.70,231.48 L62.80,230.95 L62.90,230.40 L63.00,229.83 L63.10,229.25 L63.20,228.65 L63.30,228.03 L63.40,227.40 L63.50,226.76 L63.60,226.09 L63.70,225.41 L63.80,224.72 L63.90,224.01 L64.00,223.29 L64.10,222.55 L64.20,221.79 L64.30,221.02 L64.40,220.24 L64.50,219.45 L64.60,218.64 L64.70,217.81 L64.80,216.98 L64.90,216.13 L65.00,215.27 L65.10,214.39 L65.20,213.51 L65.30,212.61 L65.40,211.70 L65.50,210.78 L65.60,209.85 L65.70,208.91 L65.80,207.95 L65.90,206.99 L66.00,206.02 L66.10,205.04 L66.20,204.05 L66.30,203.05 L66.40,202.04 L66.50,201.02 L66.60,199.99 L66.70,198.96 L66.80,197.92 L66.90,196.87 L67.00,195.82 L67.10,194.75 L67.20,193.69 L67.30,192.61 L67.40,191.53 L67.50,190.44 L67.60,189.35 L67.70,188.25 L67.80,187.15 L67.90,186.04 L68.00,184.93 L68.10,183.82 L68.20,182.70 L68.30,181.57 L68.40,180.45 L68.50,179.32 L68.60,178.18 L68.70,177.05 L68.80,175.91 L68.90,174.77 L69.00,173.63 L69.10,172.48 L69.20,171.33 L69.30,170.19 L69.40,169.04 L69.50,167.88 L69.60,166.73 L69.70,165.58 L69.80,164.43 L69.90,163.27 L70.00,162.12 L70.10,160.97 L70.20,159.81 L70.30,158.66 L70.40,157.51 L70.50,156.36 L70.60,155.20 L70.70,154.05 L70.80,152.91 L70.90,151.76 L71.00,150.61 L71.10,149.47 L71.20,148.33 L71.30,147.19 L71.40,146.05 L71.50,144.91 L71.60,143.78 L71.70,142.65 L71.80,141.52 L71.90,140.39 L72.00,139.27 L72.10,138.15 L72.20,137.03 L72.30,135.92 L72.40,134.80 L72.50,133.70 L72.60,132.59 L72.70,131.49 L72.80,130.40 L72.90,129.30 L73.00,128.22 L73.10,127.13 L73.20,126.05 L73.30,124.97 L73.40,123.90 L73.50,122.83 L73.60,121.77 L73.70,120.71 L73.80,119.66 L73.90,118.61 L74.00,117.56 L74.10,116.52 L74.20,115.49 L74.30,114.46 L74.40,113.43 L74.50,112.41 L74.60,111.40 L74.70,110.39 L74.80,109.38 L74.90,108.39 L75.00,107.39 L75.10,106.40 L75.20,105.42 L75.30,104.44 L75.40,103.47 L75.50,102.51 L75.60,101.55 L75.70,100.59 L75.80,99.64 L75.90,98.70 L76.00,97.76 L76.10,96.83 L76.20,95.90 L76.30,94.98 L76.40,94.07 L76.50,93.16 L76.60,92.26 L76.70,91.36 L76.80,90.47 L76.90,89.59 L77.00,88.71 L77.10,87.84 L77.20,86.97 L77.30,86.11 L77.40,85.26 L77.50,84.41 L77.60,83.57 L77.70,82.73 L77.80,81.91 L77.90,81.08 L78.00,80.27 L78.10,79.46 L78.20,78.65 L78.30,77.85 L78.40,77.06 L78.50,76.28 L78.60,75.50 L78.70,74.73 L78.80,73.96 L78.90,73.20 L79.00,72.44 L79.10,71.70 L79.20,70.95 L79.30,70.22 L79.40,69.49 L79.50,68.77 L79.60,68.05 L79.70,67.34 L79.80,66.64 L79.90,65.94 L80.00,65.25 L80.10,64.56 L80.20,63.88 L80.30,63.21 L80.40,62.54 L80.50,61.88 L80.60,61.23 L80.70,60.58 L80.80,59.94 L80.90,59.30 L81.00,58.67 L81.10,58.05 L81.20,57.43 L81.30,56.82 L81.40,56.21 L81.50,55.61 L81.60,55.02 L81.70,54.43 L81.80,53.85 L81.90,53.28 L82.00,52.71 L82.10,52.14 L82.20,51.59 L82.30,51.03 L82.40,50.49 L82.50,49.95 L82.60,49.41 L82.70,48.88 L82.80,48.36 L82.90,47.85 L83.00,47.33 L83.10,46.83 L83.20,46.33 L83.30,45.84 L83.40,45.35 L83.50,44.87 L83.60,44.39 L83.70,43.92 L83.80,43.45 L83.90,42.99 L84.00,42.54 L84.10,42.09 L84.20,41.65 L84.30,41.21 L84.40,40.78 L84.50,40.35 L84.60,39.93 L84.70,39.51 L84.80,39.10 L84.90,38.69 L85.00,38.29 L85.10,37.90 L85.20,37.51 L85.30,37.12 L85.40,36.74 L85.50,36.37 L85.60,36.00 L85.70,35.64 L85.80,35.28 L85.90,34.93 L86.00,34.58 L86.10,34.23 L86.20,33.89 L86.30,33.56 L86.40,33.23 L86.50,32.91 L86.60,32.59 L86.70,32.28 L86.80,31.97 L86.90,31.66 L87.00,31.36 L87.10,31.07 L87.20,30.78 L87.30,30.49 L87.40,30.21 L87.50,29.93 L87.60,29.66 L87.70,29.40 L87.80,29.13 L87.90,28.88 L88.00,28.62 L88.10,28.37 L88.20,28.13 L88.30,27.89 L88.40,27.65 L88.50,27.42 L88.60,27.20 L88.70,26.97 L88.80,26.76 L88.90,26.54 L89.00,26.33 L89.10,26.13 L89.20,25.93 L89.30,25.73 L89.40,25.54 L89.50,25.35 L89.60,25.16 L89.70,24.98 L89.80,24.81 L89.90,24.63 L90.00,24.47 L90.10,24.30 L90.20,24.14 L90.30,23.98 L90.40,23.83 L90.50,23.68 L90.60,23.54 L90.70,23.40 L90.80,23.26 L90.90,23.12 L91.00,22.99 L91.10,22.87 L91.20,22.75 L91.30,22.63 L91.40,22.51 L91.50,22.40 L91.60,22.29 L91.70,22.19 L91.80,22.09 L91.90,21.99 L92.00,21.89 L92.10,21.80 L92.20,21.72 L92.30,21.63 L92.40,21.55 L92.50,21.47 L92.60,21.40 L92.70,21.33 L92.80,21.26 L92.90,21.20 L93.00,21.14 L93.10,21.08 L93.20,21.03 L93.30,20.98 L93.40,20.93 L93.50,20.88 L93.60,20.84 L93.70,20.80 L93.80,20.77 L93.90,20.73 L94.00,20.70 L94.10,20.68 L94.20,20.65 L94.30,20.63 L94.40,20.62 L94.50,20.60 L94.60,20.59 L94.70,20.58 L94.80,20.57 L94.90,20.57 L95.00,20.57 L95.10,20.57 L95.20,20.58 L95.30,20.58 L95.40,20.59 L95.50,20.61 L95.60,20.62 L95.70,20.64 L95.80,20.66 L95.90,20.68 L96.00,20.71 L96.10,20.74 L96.20,20.77 L96.30,20.80 L96.40,20.84 L96.50,20.88 L96.60,20.92 L96.70,20.96 L96.80,21.01 L96.90,21.05 L97.00,21.10 L97.10,21.16 L97.20,21.21 L97.30,21.27 L97.40,21.33 L97.50,21.39 L97.60,21.46 L97.70,21.52 L97.80,21.59 L97.90,21.66 L98.00,21.73 L98.10,21.81 L98.20,21.89 L98.30,21.97 L98.40,22.05 L98.50,22.13 L98.60,22.22 L98.70,22.31 L98.80,22.40 L98.90,22.49 L99.00,22.58 L99.10,22.68 L99.20,22.77 L99.30,22.87 L99.40,22.98 L99.50,23.08 L99.60,23.18 L99.70,23.29 L99.80,23.40 L99.90,23.51 L100.00,23.62 L100.10,23.74 L100.20,23.86 L100.30,23.97 L100.40,24.09 L100.50,24.22 L100.60,24.34 L100.70,24.46 L100.80,24.59 L100.90,24.72 L101.00,24.85 L101.10,24.98 L101.20,25.11 L101.30,25.25 L101.40,25.39 L101.50,25.52 L101.60,25.66 L101.70,25.81 L101.80,25.95 L101.90,26.09 L102.00,26.24 L102.10,26.39 L102.20,26.54 L102.30,26.69 L102.40,26.84 L102.50,26.99 L102.60,27.15 L102.70,27.30 L102.80,27.46 L102.90,27.62 L103.00,27.78 L103.10,27.94 L103.20,28.10 L103.30,28.27 L103.40,28.43 L103.50,28.60 L103.60,28.77 L103.70,28.94 L103.80,29.11 L103.90,29.28 L104.00,29.45 L104.10,29.63 L104.20,29.80 L104.30,29.98 L104.40,30.16 L104.50,30.34 L104.60,30.52 L104.70,30.70 L104.80,30.88 L104.90,31.07 L105.00,31.25 L105.10,31.44 L105.20,31.62 L105.30,31.81 L105.40,32.00 L105.50,32.19 L105.60,32.38 L105.70,32.58 L105.80,32.77 L105.90,32.96 L106.00,33.16 L106.10,33.36 L106.20,33.55 L106.30,33.75 L106.40,33.95 L106.50,34.15 L106.60,34.35 L106.70,34.55 L106.80,34.76 L106.90,34.96 L107.00,35.17 L107.10,35.37 L107.20,35.58 L107.30,35.79 L107.40,35.99 L107.50,36.20 L107.60,36.41 L107.70,36.62 L107.80,36.84 L107.90,37.05 L108.00,37.26 L108.10,37.47 L108.20,37.69 L108.30,37.91 L108.40,38.12 L108.50,38.34 L108.60,38.56 L108.70,38.77 L108.80,38.99 L108.90,39.21 L109.00,39.43 L109.10,39.66 L109.20,39.88 L109.30,40.10 L109.40,40.32 L109.50,40.55 L109.60,40.77 L109.70,41.00 L109.80,41.22 L109.90,41.45 L110.00,41.68 L110.10,41.90 L110.20,42.13 L110.30,42.36 L110.40,42.59 L110.50,42.82 L110.60,43.05 L110.70,43.28 L110.80,43.51 L110.90,43.75 L111.00,43.98 L111.10,44.21 L111.20,44.44 L111.30,44.68 L111.40,44.91 L111.50,45.15 L111.60,45.38 L111.70,45.62 L111.80,45.86 L111.90,46.09 L112.00,46.33 L112.10,46.57 L112.20,46.81 L112.30,47.05 L112.40,47.29 L112.50,47.53 L112.60,47.77 L112.70,48.01 L112.80,48.25 L112.90,48.49 L113.00,48.73 L113.10,48.97 L113.20,49.22 L113.30,49.46 L113.40,49.70 L113.50,49.95 L113.60,50.19 L113.70,50.43 L113.80,50.68 L113.90,50.92 L114.00,51.17 L114.10,51.41 L114.20,51.66 L114.30,51.91 L114.40,52.15 L114.50,52.40 L114.60,52.65 L114.70,52.89 L114.80,53.14 L114.90,53.39 L115.00,53.64 L115.10,53.88 L115.20,54.13 L115.30,54.38 L115.40,54.63 L115.50,54.88 L115.60,55.13 L115.70,55.38 L115.80,55.63 L115.90,55.88 L116.00,56.13 L116.10,56.38 L116.20,56.63 L116.30,56.88 L116.40,57.13 L116.50,57.38 L116.60,57.64 L116.70,57.89 L116.80,58.14 L116.90,58.39 L117.00,58.64 L117.10,58.90 L117.20,59.15 L117.30,59.40 L117.40,59.65 L117.50,59.91 L117.60,60.16 L117.70,60.41 L117.80,60.67 L117.90,60.92 L118.00,61.17 L118.10,61.43 L118.20,61.68 L118.30,61.93 L118.40,62.19 L118.50,62.44 L118.60,62.70 L118.70,62.95 L118.80,63.20 L118.90,63.46 L119.00,63.71 L119.10,63.97 L119.20,64.22 L119.30,64.48 L119.40,64.73 L119.50,64.99 L119.60,65.24 L119.70,65.49 L119.80,65.75 L119.90,66.00 L120.00,66.26 L120.10,66.51 L120.20,66.77 L120.30,67.02 L120.40,67.28 L120.50,67.53 L120.60,67.79 L120.70,68.04 L120.80,68.30 L120.90,68.55 L121.00,68.81 L121.10,69.06 L121.20,69.32 L121.30,69.57 L121.40,69.83 L121.50,70.08 L121.60,70.34 L121.70,70.59 L121.80,70.85 L121.90,71.10 L122.00,71.36 L122.10,71.61 L122.20,71.86 L122.30,72.12 L122.40,72.37 L122.50,72.63 L122.60,72.88 L122.70,73.14 L122.80,73.39 L122.90,73.64 L123.00,73.90 L123.10,74.15 L123.20,74.41 L123.30,74.66 L123.40,74.91 L123.50,75.17 L123.60,75.42 L123.70,75.67 L123.80,75.93 L123.90,76.18 L124.00,76.43 L124.10,76.69 L124.20,76.94 L124.30,77.19 L124.40,77.45 L124.50,77.70 L124.60,77.95 L124.70,78.20 L124.80,78.46 L124.90,78.71 L125.00,78.96 L125.10,79.21 L125.20,79.46 L125.30,79.72 L125.40,79.97 L125.50,80.22 L125.60,80.47 L125.70,80.72 L125.80,80.97 L125.90,81.22 L126.00,81.47 L126.10,81.72 L126.20,81.97 L126.30,82.22 L126.40,82.47 L126.50,82.72 L126.60,82.97 L126.70,83.22 L126.80,83.47 L126.90,83.72 L127.00,83.97 L127.10,84.22 L127.20,84.47 L127.30,84.72 L127.40,84.97 L127.50,85.21 L127.60,85.46 L127.70,85.71 L127.80,85.96 L127.90,86.21 L128.00,86.45 L128.10,86.70 L128.20,86.95 L128.30,87.19 L128.40,87.44 L128.50,87.69 L128.60,87.93 L128.70,88.18 L128.80,88.42 L128.90,88.67 L129.00,88.92 L129.10,89.16 L129.20,89.41 L129.30,89.65 L129.40,89.89 L129.50,90.14 L129.60,90.38 L129.70,90.63 L129.80,90.87 L129.90,91.11 L130.00,91.36 L130.50,92.57 L131.00,93.78 L131.50,94.98 L132.00,96.18 L132.50,97.37 L133.00,98.55 L133.50,99.73 L134.00,100.90 L134.50,102.06 L135.00,103.22 L135.50,104.37 L136.00,105.51 L136.50,106.65 L137.00,107.78 L137.50,108.90 L138.00,110.02 L138.50,111.12 L139.00,112.22 L139.50,113.32 L140.00,114.40 L140.50,115.48 L141.00,116.55 L141.50,117.62 L142.00,118.67 L142.50,119.72 L143.00,120.76 L143.50,121.79 L144.00,122.82 L144.50,123.84 L145.00,124.85 L145.50,125.85 L146.00,126.84 L146.50,127.83 L147.00,128.81 L147.50,129.78 L148.00,130.75 L148.50,131.70 L149.00,132.65 L149.50,133.59 L150.00,134.53 L150.50,135.45 L151.00,136.37 L151.50,137.28 L152.00,138.19 L152.50,139.08 L153.00,139.97 L153.50,140.85 L154.00,141.73 L154.50,142.59 L155.00,143.45 L155.50,144.30 L156.00,145.15 L156.50,145.99 L157.00,146.82 L157.50,147.64 L158.00,148.45 L158.50,149.26 L159.00,150.07 L159.50,150.86 L160.00,151.65 L160.50,152.43 L161.00,153.20 L161.50,153.97 L162.00,154.73 L162.50,155.48 L163.00,156.23 L163.50,156.97 L164.00,157.70 L164.50,158.43 L165.00,159.15 L165.50,159.87 L166.00,160.57 L166.50,161.28 L167.00,161.97 L167.50,162.66 L168.00,163.34 L168.50,164.02 L169.00,164.69 L169.50,165.35 L170.00,166.01 L170.50,166.66 L171.00,167.31 L171.50,167.95 L172.00,168.58 L172.50,169.21 L173.00,169.83 L173.50,170.45 L174.00,171.06 L174.50,171.67 L175.00,172.27 L175.50,172.86 L176.00,173.45 L176.50,174.03 L177.00,174.61 L177.50,175.18 L178.00,175.75 L178.50,176.31 L179.00,176.87 L179.50,177.42 L180.00,177.97 L180.50,178.51 L181.00,179.05 L181.50,179.58 L182.00,180.11 L182.50,180.63 L183.00,181.14 L183.50,181.66 L184.00,182.16 L184.50,182.67 L185.00,183.17 L185.50,183.66 L186.00,184.15 L186.50,184.63 L187.00,185.11 L187.50,185.59 L188.00,186.06 L188.50,186.52 L189.00,186.99 L189.50,187.44 L190.00,187.90 L190.50,188.35 L191.00,188.79 L191.50,189.23 L192.00,189.67 L192.50,190.10 L193.00,190.53 L193.50,190.96 L194.00,191.38 L194.50,191.79 L195.00,192.21 L195.50,192.62 L196.00,193.02 L196.50,193.42 L197.00,193.82 L197.50,194.21 L198.00,194.60 L198.50,194.99 L199.00,195.37 L199.50,195.75 L200.00,196.13 L200.50,196.50 L201.00,196.87 L201.50,197.24 L202.00,197.60 L202.50,197.96 L203.00,198.32 L203.50,198.67 L204.00,199.02 L204.50,199.36 L205.00,199.71 L205.50,200.05 L206.00,200.38 L206.50,200.71 L207.00,201.05 L207.50,201.37 L208.00,201.70 L208.50,202.02 L209.00,202.34 L209.50,202.65 L210.00,202.96 L210.50,203.27 L211.00,203.58 L211.50,203.88 L212.00,204.18 L212.50,204.48 L213.00,204.78 L213.50,205.07 L214.00,205.36 L214.50,205.65 L215.00,205.93 L215.50,206.22 L216.00,206.50 L216.50,206.77 L217.00,207.05 L217.50,207.32 L218.00,207.59 L218.50,207.86 L219.00,208.12 L219.50,208.38 L220.00,208.64 L220.50,208.90 L221.00,209.16 L221.50,209.41 L222.00,209.66 L222.50,209.91 L223.00,210.16 L223.50,210.40 L224.00,210.64 L224.50,210.88 L225.00,211.12 L225.50,211.35 L226.00,211.59 L226.50,211.82 L227.00,212.05 L227.50,212.27 L228.00,212.50 L228.50,212.72 L229.00,212.94 L229.50,213.16 L230.00,213.38 L230.50,213.59 L231.00,213.81 L231.50,214.02 L232.00,214.23 L232.50,214.43 L233.00,214.64 L233.50,214.84 L234.00,215.05 L234.50,215.25 L235.00,215.44 L235.50,215.64 L236.00,215.83 L236.50,216.03 L237.00,216.22 L237.50,216.41 L238.00,216.60 L238.50,216.78 L239.00,216.97 L239.50,217.15 L240.00,217.33 L240.50,217.51 L241.00,217.69 L241.50,217.87 L242.00,218.04 L242.50,218.22 L243.00,218.39 L243.50,218.56 L244.00,218.73 L244.50,218.90 L245.00,219.06 L245.50,219.23 L246.00,219.39 L246.50,219.55 L247.00,219.71 L247.50,219.87 L248.00,220.03 L248.50,220.19 L249.00,220.34 L249.50,220.49 L250.00,220.65 L250.50,220.80 L251.00,220.95 L251.50,221.10 L252.00,221.24 L252.50,221.39 L253.00,221.53 L253.50,221.68 L254.00,221.82 L254.50,221.96 L255.00,222.10 L255.50,222.24 L256.00,222.38 L256.50,222.51 L257.00,222.65 L257.50,222.78 L258.00,222.91 L258.50,223.04 L259.00,223.17 L259.50,223.30 L260.00,223.43 L260.50,223.56 L261.00,223.69 L261.50,223.81 L262.00,223.93 L262.50,224.06 L263.00,224.18 L263.50,224.30 L264.00,224.42 L264.50,224.54 L265.00,224.66 L265.50,224.77 L266.00,224.89 L266.50,225.00 L267.00,225.12 L267.50,225.23 L268.00,225.34 L268.50,225.45 L269.00,225.56 L269.50,225.67 L270.00,225.78 L270.50,225.89 L271.00,225.99 L271.50,226.10 L272.00,226.20 L272.50,226.31 L273.00,226.41 L273.50,226.51 L274.00,226.61 L274.50,226.72 L275.00,226.81 L275.50,226.91 L276.00,227.01 L276.50,227.11 L277.00,227.21 L277.50,227.30 L278.00,227.40 L278.50,227.49 L279.00,227.58 L279.50,227.68 L280.00,227.77 L280.50,227.86 L281.00,227.95 L281.50,228.04 L282.00,228.13 L282.50,228.21 L283.00,228.30 L283.50,228.39 L284.00,228.47 L284.50,228.56 L285.00,228.64 L285.50,228.73 L286.00,228.81 L286.50,228.89 L287.00,228.97 L287.50,229.06 L288.00,229.14 L288.50,229.22 L289.00,229.30 L289.50,229.37 L290.00,229.45 L290.50,229.53 L291.00,229.61 L291.50,229.68 L292.00,229.76 L292.50,229.83 L293.00,229.91 L293.50,229.98 L294.00,230.05 L294.50,230.13 L295.00,230.20 L295.50,230.27 L296.00,230.34 L296.50,230.41 L297.00,230.48 L297.50,230.55 L298.00,230.62 L298.50,230.69 L299.00,230.75 L299.50,230.82 L300.00,230.89 L300.50,230.95 L301.00,231.02 L301.50,231.08 L302.00,231.15 L302.50,231.21 L303.00,231.27 L303.50,231.34 L304.00,231.40 L304.50,231.46 L305.00,231.52 L305.50,231.58 L306.00,231.64 L306.50,231.70 L307.00,231.76 L307.50,231.82 L308.00,231.88 L308.50,231.94 L309.00,232.00 L309.50,232.05 L310.00,232.11 L310.50,232.17 L311.00,232.22 L311.50,232.28 L312.00,232.33 L312.50,232.39 L313.00,232.44 L313.50,232.50 L314.00,232.55 L314.50,232.60 L315.00,232.65 L315.50,232.71 L316.00,232.76 L316.50,232.81 L317.00,232.86 L317.50,232.91 L318.00,232.96 L318.50,233.01 L319.00,233.06 L319.50,233.11 L320.00,233.16 L320.50,233.21 L321.00,233.25 L321.50,233.30 L322.00,233.35 L322.50,233.40 L323.00,233.44 L323.50,233.49 L324.00,233.53 L324.50,233.58 L325.00,233.62 L325.50,233.67 L326.00,233.71 L326.50,233.76 L327.00,233.80 L327.50,233.85 L328.00,233.89 L328.50,233.93 L329.00,233.97 L329.50,234.02 L330.00,234.06 L330.50,234.10 L331.00,234.14 L331.50,234.18 L332.00,234.22 L332.50,234.26 L333.00,234.30 L333.50,234.34 L334.00,234.38 L334.50,234.42 L335.00,234.46 L335.50,234.50 L336.00,234.54 L336.50,234.57 L337.00,234.61 L337.50,234.65 L338.00,234.69 L338.50,234.72 L339.00,234.76 L339.50,234.80 L340.00,234.83 L340.50,234.87 L341.00,234.90 L341.50,234.94 L342.00,234.97 L342.50,235.01 L343.00,235.04 L343.50,235.08 L344.00,235.11 L344.50,235.15 L345.00,235.18 L345.50,235.21 L346.00,235.24 L346.50,235.28 L347.00,235.31 L347.50,235.34 L348.00,235.37 L348.50,235.41 L349.00,235.44 L349.50,235.47 L350.00,235.50 L350.50,235.53 L351.00,235.56 L351.50,235.59 L352.00,235.62 L352.50,235.65 L353.00,235.68 L353.50,235.71 L354.00,235.74 L354.50,235.77 L355.00,235.80 L355.50,235.83 L356.00,235.86 L356.50,235.89 L357.00,235.91 L357.50,235.94 L358.00,235.97 L358.50,236.00 L359.00,236.03 L359.50,236.05 L360.00,236.08 L360.50,236.11 L361.00,236.13 L361.50,236.16 L362.00,236.19 L362.50,236.21 L363.00,236.24 L363.50,236.26 L364.00,236.29 L364.50,236.31 L365.00,236.34 L365.50,236.36 L366.00,236.39 L366.50,236.41 L367.00,236.44 L367.50,236.46 L368.00,236.49 L368.50,236.51 L369.00,236.53 L369.50,236.56 L370.00,236.58 L370.50,236.60 L371.00,236.63 L371.50,236.65 L372.00,236.67 L372.50,236.70 L373.00,236.72 L373.50,236.74 L374.00,236.76 L374.50,236.79 L375.00,236.81 L375.50,236.83 L376.00,236.85 L376.50,236.87 L377.00,236.89 L377.50,236.91 L378.00,236.94 L378.50,236.96 L379.00,236.98 L379.50,237.00 L380.00,237.02 L380.50,237.04 L381.00,237.06 L381.50,237.08 L382.00,237.10 L382.50,237.12 L383.00,237.14 L383.50,237.16 L384.00,237.18 L384.50,237.20 L385.00,237.21 L385.50,237.23 L386.00,237.25 L386.50,237.27 L387.00,237.29 L387.50,237.31 L388.00,237.33 L388.50,237.34 L389.00,237.36 L389.50,237.38 L390.00,237.40 L390.50,237.42 L391.00,237.43 L391.50,237.45 L392.00,237.47 L392.50,237.49 L393.00,237.50 L393.50,237.52 L394.00,237.54 L394.50,237.55 L395.00,237.57 L395.50,237.59 L396.00,237.60 L396.50,237.62 L397.00,237.64 L397.50,237.65 L398.00,237.67 L398.50,237.68 L399.00,237.70 L399.50,237.72 L400.00,237.73 L400.50,237.75 L401.00,237.76 L401.50,237.78 L402.00,237.79 L402.50,237.81 L403.00,237.82 L403.50,237.84 L404.00,237.85 L404.50,237.87 L405.00,237.88 L405.50,237.90 L406.00,237.91 L406.50,237.92 L407.00,237.94 L407.50,237.95 L408.00,237.97 L408.50,237.98 L409.00,237.99 L409.50,238.01 L410.00,238.02 L410.50,238.04 L411.00,238.05 L411.50,238.06 L412.00,238.08 L412.50,238.09 L413.00,238.10 L413.50,238.12 L414.00,238.13 L414.50,238.14 L415.00,238.15 L415.50,238.17 L416.00,238.18 L416.50,238.19 L417.00,238.20 L417.50,238.22 L418.00,238.23 L418.50,238.24 L419.00,238.25 L419.50,238.27 L420.00,238.28 L420.50,238.29 L421.00,238.30 L421.50,238.31 L422.00,238.33 L422.50,238.34 L423.00,238.35 L423.50,238.36 L424.00,238.37 L424.50,238.38 L425.00,238.39 L425.50,238.41 L426.00,238.42 L426.50,238.43 L427.00,238.44 L427.50,238.45 L428.00,238.46 L428.50,238.47 L429.00,238.48 L429.50,238.49 L430.00,238.50 L430.50,238.51 L431.00,238.52 L431.50,238.53 L432.00,238.54 L432.50,238.55 L433.00,238.56 L433.50,238.57 L434.00,238.58 L434.50,238.59 L435.00,238.60 L435.50,238.61 L436.00,238.62 L436.50,238.63 L437.00,238.64 L437.50,238.65 L438.00,238.66 L438.50,238.67 L439.00,238.68 L439.50,238.69 L439.90,238.70" fill="none" stroke="#ff7d00" stroke-width="2.0" stroke-linejoin="round"/>
<path d="M58.18,240.64 L58.71,240.57 L59.21,240.45 L59.68,240.28 L60.14,240.07 L60.56,239.82 L60.97,239.54 L61.35,239.22 L61.70,238.87 L62.03,238.49 L62.33,238.09 L62.61,237.68 L62.87,237.25 L63.10,236.80 L63.31,236.35 L63.50,235.88 L63.68,235.41 L63.84,234.93 L63.98,234.44 L64.12,233.96 L64.24,233.47 L64.36,232.98 L64.47,232.49 L64.56,232.00 L64.66,231.51 L64.74,231.01 L64.82,230.52 L64.90,230.02 L64.97,229.52 L65.04,229.03 L65.10,228.53 L65.16,228.03 L65.22,227.53 L65.28,227.04 L65.34,226.54 L65.40,226.04 L65.46,225.54 L65.52,225.04 L65.57,224.55 L65.63,224.05 L65.69,223.55 L65.75,223.05 L65.80,222.55 L65.86,222.05 L65.92,221.56 L65.97,221.06 L66.03,220.56 L66.08,220.06 L66.14,219.56 L66.19,219.06 L66.25,218.56 L66.30,218.06 L66.36,217.57 L66.41,217.07 L66.47,216.57 L66.52,216.07 L66.57,215.57 L66.62,215.07 L66.68,214.57 L66.73,214.07 L66.78,213.58 L66.83,213.08 L66.89,212.58 L66.94,212.08 L66.99,211.58 L67.04,211.08 L67.09,210.58 L67.14,210.08 L67.19,209.58 L67.24,209.08 L67.29,208.58 L67.34,208.09 L67.38,207.59 L67.43,207.09 L67.48,206.59 L67.53,206.09 L67.58,205.59 L67.62,205.09 L67.70,204.85 L67.80,203.60 L67.90,202.34 L68.00,201.08 L68.10,199.81 L68.20,198.53 L68.30,197.24 L68.40,195.95 L68.50,194.65 L68.60,193.35 L68.70,192.04 L68.80,190.72 L68.90,189.40 L69.00,188.08 L69.10,186.75 L69.20,185.42 L69.30,184.08 L69.40,182.75 L69.50,181.41 L69.60,180.07 L69.70,178.72 L69.80,177.38 L69.90,176.03 L70.00,174.69 L70.10,173.34 L70.20,171.99 L70.30,170.65 L70.40,169.30 L70.50,167.95 L70.60,166.61 L70.70,165.26 L70.80,163.92 L70.90,162.58 L71.00,161.24 L71.10,159.90 L71.20,158.57 L71.30,157.23 L71.40,155.90 L71.50,154.57 L71.60,153.25 L71.70,151.93 L71.80,150.61 L71.90,149.29 L72.00,147.98 L72.10,146.68 L72.20,145.37 L72.30,144.07 L72.40,142.78 L72.50,141.49 L72.60,140.20 L72.70,138.92 L72.80,137.65 L72.90,136.38 L73.00,135.11 L73.10,133.85 L73.20,132.59 L73.30,131.35 L73.40,130.10 L73.50,128.86 L73.60,127.63 L73.70,126.40 L73.80,125.18 L73.90,123.97 L74.00,122.76 L74.10,121.56 L74.20,120.36 L74.30,119.17 L74.40,117.99 L74.50,116.81 L74.60,115.64 L74.70,114.48 L74.80,113.32 L74.90,112.17 L75.00,111.02 L75.10,109.89 L75.20,108.76 L75.30,107.64 L75.40,106.52 L75.50,105.41 L75.60,104.31 L75.70,103.22 L75.80,102.13 L75.90,101.05 L76.00,99.98 L76.10,98.91 L76.20,97.85 L76.30,96.80 L76.40,95.76 L76.50,94.72 L76.60,93.69 L76.70,92.67 L76.80,91.66 L76.90,90.65 L77.00,89.66 L77.10,88.66 L77.20,87.68 L77.30,86.70 L77.40,85.74 L77.50,84.77 L77.60,83.82 L77.70,82.87 L77.80,81.94 L77.90,81.01 L78.00,80.08 L78.10,79.17 L78.20,78.26 L78.30,77.36 L78.40,76.46 L78.50,75.58 L78.60,74.70 L78.70,73.83 L78.80,72.97 L78.90,72.11 L79.00,71.26 L79.10,70.42 L79.20,69.59 L79.30,68.76 L79.40,67.95 L79.50,67.14 L79.60,66.33 L79.70,65.54 L79.80,64.75 L79.90,63.97 L80.00,63.20 L80.10,62.43 L80.20,61.67 L80.30,60.92 L80.40,60.17 L80.50,59.44 L80.60,58.71 L80.70,57.99 L80.80,57.27 L80.90,56.56 L81.00,55.86 L81.10,55.17 L81.20,54.48 L81.30,53.80 L81.40,53.13 L81.50,52.46 L81.60,51.81 L81.70,51.16 L81.80,50.51 L81.90,49.87 L82.00,49.24 L82.10,48.62 L82.20,48.00 L82.30,47.39 L82.40,46.79 L82.50,46.19 L82.60,45.60 L82.70,45.02 L82.80,44.45 L82.90,43.88 L83.00,43.31 L83.10,42.76 L83.20,42.21 L83.30,41.66 L83.40,41.13 L83.50,40.60 L83.60,40.07 L83.70,39.56 L83.80,39.05 L83.90,38.54 L84.00,38.04 L84.10,37.55 L84.20,37.07 L84.30,36.59 L84.40,36.11 L84.50,35.65 L84.60,35.19 L84.70,34.73 L84.80,34.28 L84.90,33.84 L85.00,33.40 L85.10,32.97 L85.20,32.55 L85.30,32.13 L85.40,31.71 L85.50,31.31 L85.60,30.91 L85.70,30.51 L85.80,30.12 L85.90,29.74 L86.00,29.36 L86.10,28.98 L86.20,28.62 L86.30,28.26 L86.40,27.90 L86.50,27.55 L86.60,27.20 L86.70,26.86 L86.80,26.53 L86.90,26.20 L87.00,25.88 L87.10,25.56 L87.20,25.24 L87.30,24.94 L87.40,24.63 L87.50,24.34 L87.60,24.04 L87.70,23.76 L87.80,23.47 L87.90,23.20 L88.00,22.92 L88.10,22.66 L88.20,22.39 L88.30,22.14 L88.40,21.88 L88.50,21.64 L88.60,21.39 L88.70,21.15 L88.80,20.92 L88.90,20.69 L89.00,20.47 L89.10,20.25 L89.20,20.03 L89.30,19.82 L89.40,19.62 L89.50,19.42 L89.60,19.22 L89.70,19.03 L89.80,18.84 L89.90,18.66 L90.00,18.48 L90.10,18.30 L90.20,18.13 L90.30,17.97 L90.40,17.80 L90.50,17.65 L90.60,17.49 L90.70,17.34 L90.80,17.20 L90.90,17.06 L91.00,16.92 L91.10,16.79 L91.20,16.66 L91.30,16.53 L91.40,16.41 L91.50,16.29 L91.60,16.18 L91.70,16.07 L91.80,15.96 L91.90,15.86 L92.00,15.76 L92.10,15.67 L92.20,15.58 L92.30,15.49 L92.40,15.41 L92.50,15.33 L92.60,15.25 L92.70,15.18 L92.80,15.11 L92.90,15.05 L93.00,14.98 L93.10,14.93 L93.20,14.87 L93.30,14.82 L93.40,14.77 L93.50,14.72 L93.60,14.68 L93.70,14.64 L93.80,14.61 L93.90,14.58 L94.00,14.55 L94.10,14.52 L94.20,14.50 L94.30,14.48 L94.40,14.47 L94.50,14.45 L94.60,14.44 L94.70,14.44 L94.80,14.43 L94.90,14.43 L95.00,14.43 L95.10,14.44 L95.20,14.45 L95.30,14.46 L95.40,14.47 L95.50,14.49 L95.60,14.51 L95.70,14.53 L95.80,14.56 L95.90,14.58 L96.00,14.61 L96.10,14.65 L96.20,14.68 L96.30,14.72 L96.40,14.76 L96.50,14.81 L96.60,14.85 L96.70,14.90 L96.80,14.95 L96.90,15.01 L97.00,15.07 L97.10,15.12 L97.20,15.19 L97.30,15.25 L97.40,15.32 L97.50,15.39 L97.60,15.46 L97.70,15.53 L97.80,15.61 L97.90,15.68 L98.00,15.77 L98.10,15.85 L98.20,15.93 L98.30,16.02 L98.40,16.11 L98.50,16.20 L98.60,16.30 L98.70,16.39 L98.80,16.49 L98.90,16.59 L99.00,16.69 L99.10,16.80 L99.20,16.90 L99.30,17.01 L99.40,17.12 L99.50,17.24 L99.60,17.35 L99.70,17.47 L99.80,17.59 L99.90,17.71 L100.00,17.83 L100.10,17.95 L100.20,18.08 L100.30,18.21 L100.40,18.34 L100.50,18.47 L100.60,18.60 L100.70,18.74 L100.80,18.87 L100.90,19.01 L101.00,19.15 L101.10,19.30 L101.20,19.44 L101.30,19.58 L101.40,19.73 L101.50,19.88 L101.60,20.03 L101.70,20.18 L101.80,20.34 L101.90,20.49 L102.00,20.65 L102.10,20.81 L102.20,20.97 L102.30,21.13 L102.40,21.29 L102.50,21.46 L102.60,21.62 L102.70,21.79 L102.80,21.96 L102.90,22.13 L103.00,22.30 L103.10,22.48 L103.20,22.65 L103.30,22.83 L103.40,23.00 L103.50,23.18 L103.60,23.36 L103.70,23.54 L103.80,23.73 L103.90,23.91 L104.00,24.10 L104.10,24.28 L104.20,24.47 L104.30,24.66 L104.40,24.85 L104.50,25.04 L104.60,25.23 L104.70,25.43 L104.80,25.62 L104.90,25.82 L105.00,26.01 L105.10,26.21 L105.20,26.41 L105.30,26.61 L105.40,26.81 L105.50,27.02 L105.60,27.22 L105.70,27.43 L105.80,27.63 L105.90,27.84 L106.00,28.05 L106.10,28.26 L106.20,28.47 L106.30,28.68 L106.40,28.89 L106.50,29.10 L106.60,29.32 L106.70,29.53 L106.80,29.75 L106.90,29.96 L107.00,30.18 L107.10,30.40 L107.20,30.62 L107.30,30.84 L107.40,31.06 L107.50,31.28 L107.60,31.50 L107.70,31.73 L107.80,31.95 L107.90,32.18 L108.00,32.40 L108.10,32.63 L108.20,32.86 L108.30,33.09 L108.40,33.32 L108.50,33.55 L108.60,33.78 L108.70,34.01 L108.80,34.24 L108.90,34.47 L109.00,34.71 L109.10,34.94 L109.20,35.18 L109.30,35.41 L109.40,35.65 L109.50,35.88 L109.60,36.12 L109.70,36.36 L109.80,36.60 L109.90,36.84 L110.00,37.08 L110.10,37.32 L110.20,37.56 L110.30,37.80 L110.40,38.04 L110.50,38.29 L110.60,38.53 L110.70,38.77 L110.80,39.02 L110.90,39.26 L111.00,39.51 L111.10,39.76 L111.20,40.00 L111.30,40.25 L111.40,40.50 L111.50,40.74 L111.60,40.99 L111.70,41.24 L111.80,41.49 L111.90,41.74 L112.00,41.99 L112.10,42.24 L112.20,42.49 L112.30,42.75 L112.40,43.00 L112.50,43.25 L112.60,43.50 L112.70,43.76 L112.80,44.01 L112.90,44.27 L113.00,44.52 L113.10,44.77 L113.20,45.03 L113.30,45.29 L113.40,45.54 L113.50,45.80 L113.60,46.05 L113.70,46.31 L113.80,46.57 L113.90,46.83 L114.00,47.08 L114.10,47.34 L114.20,47.60 L114.30,47.86 L114.40,48.12 L114.50,48.38 L114.60,48.64 L114.70,48.90 L114.80,49.16 L114.90,49.42 L115.00,49.68 L115.10,49.94 L115.20,50.20 L115.30,50.46 L115.40,50.72 L115.50,50.98 L115.60,51.25 L115.70,51.51 L115.80,51.77 L115.90,52.03 L116.00,52.30 L116.10,52.56 L116.20,52.82 L116.30,53.09 L116.40,53.35 L116.50,53.61 L116.60,53.88 L116.70,54.14 L116.80,54.40 L116.90,54.67 L117.00,54.93 L117.10,55.20 L117.20,55.46 L117.30,55.73 L117.40,55.99 L117.50,56.26 L117.60,56.52 L117.70,56.79 L117.80,57.05 L117.90,57.32 L118.00,57.58 L118.10,57.85 L118.20,58.11 L118.30,58.38 L118.40,58.65 L118.50,58.91 L118.60,59.18 L118.70,59.44 L118.80,59.71 L118.90,59.98 L119.00,60.24 L119.10,60.51 L119.20,60.77 L119.30,61.04 L119.40,61.31 L119.50,61.57 L119.60,61.84 L119.70,62.11 L119.80,62.37 L119.90,62.64 L120.00,62.91 L120.10,63.17 L120.20,63.44 L120.30,63.70 L120.40,63.97 L120.50,64.24 L120.60,64.50 L120.70,64.77 L120.80,65.04 L120.90,65.30 L121.00,65.57 L121.10,65.83 L121.20,66.10 L121.30,66.37 L121.40,66.63 L121.50,66.90 L121.60,67.16 L121.70,67.43 L121.80,67.70 L121.90,67.96 L122.00,68.23 L122.10,68.49 L122.20,68.76 L122.30,69.02 L122.40,69.29 L122.50,69.56 L122.60,69.82 L122.70,70.09 L122.80,70.35 L122.90,70.62 L123.00,70.88 L123.10,71.15 L123.20,71.41 L123.30,71.67 L123.40,71.94 L123.50,72.20 L123.60,72.47 L123.70,72.73 L123.80,73.00 L123.90,73.26 L124.00,73.52 L124.10,73.79 L124.20,74.05 L124.30,74.31 L124.40,74.58 L124.50,74.84 L124.60,75.10 L124.70,75.37 L124.80,75.63 L124.90,75.89 L125.00,76.15 L125.10,76.42 L125.20,76.68 L125.30,76.94 L125.40,77.20 L125.50,77.46 L125.60,77.73 L125.70,77.99 L125.80,78.25 L125.90,78.51 L126.00,78.77 L126.10,79.03 L126.20,79.29 L126.30,79.55 L126.40,79.81 L126.50,80.07 L126.60,80.33 L126.70,80.59 L126.80,80.85 L126.90,81.11 L127.00,81.37 L127.10,81.63 L127.20,81.89 L127.30,82.14 L127.40,82.40 L127.50,82.66 L127.60,82.92 L127.70,83.18 L127.80,83.43 L127.90,83.69 L128.00,83.95 L128.10,84.20 L128.20,84.46 L128.30,84.72 L128.40,84.97 L128.50,85.23 L128.60,85.48 L128.70,85.74 L128.80,86.00 L128.90,86.25 L129.00,86.50 L129.10,86.76 L129.20,87.01 L129.30,87.27 L129.40,87.52 L129.50,87.78 L129.60,88.03 L129.70,88.28 L129.80,88.53 L129.90,88.79 L130.00,89.04 L130.50,90.30 L131.00,91.55 L131.50,92.80 L132.00,94.04 L132.50,95.27 L133.00,96.49 L133.50,97.71 L134.00,98.92 L134.50,100.13 L135.00,101.32 L135.50,102.51 L136.00,103.70 L136.50,104.87 L137.00,106.04 L137.50,107.20 L138.00,108.35 L138.50,109.49 L139.00,110.63 L139.50,111.76 L140.00,112.88 L140.50,113.99 L141.00,115.09 L141.50,116.19 L142.00,117.28 L142.50,118.36 L143.00,119.43 L143.50,120.49 L144.00,121.55 L144.50,122.60 L145.00,123.63 L145.50,124.67 L146.00,125.69 L146.50,126.70 L147.00,127.71 L147.50,128.71 L148.00,129.70 L148.50,130.68 L149.00,131.66 L149.50,132.62 L150.00,133.58 L150.50,134.53 L151.00,135.47 L151.50,136.41 L152.00,137.33 L152.50,138.25 L153.00,139.16 L153.50,140.06 L154.00,140.96 L154.50,141.85 L155.00,142.73 L155.50,143.60 L156.00,144.46 L156.50,145.32 L157.00,146.17 L157.50,147.01 L158.00,147.84 L158.50,148.67 L159.00,149.49 L159.50,150.30 L160.00,151.11 L160.50,151.90 L161.00,152.69 L161.50,153.48 L162.00,154.25 L162.50,155.02 L163.00,155.78 L163.50,156.54 L164.00,157.29 L164.50,158.03 L165.00,158.76 L165.50,159.49 L166.00,160.21 L166.50,160.93 L167.00,161.63 L167.50,162.34 L168.00,163.03 L168.50,163.72 L169.00,164.40 L169.50,165.08 L170.00,165.75 L170.50,166.41 L171.00,167.07 L171.50,167.72 L172.00,168.36 L172.50,169.00 L173.00,169.63 L173.50,170.26 L174.00,170.88 L174.50,171.49 L175.00,172.10 L175.50,172.71 L176.00,173.30 L176.50,173.90 L177.00,174.48 L177.50,175.06 L178.00,175.64 L178.50,176.21 L179.00,176.77 L179.50,177.33 L180.00,177.89 L180.50,178.44 L181.00,178.98 L181.50,179.52 L182.00,180.05 L182.50,180.58 L183.00,181.10 L183.50,181.62 L184.00,182.13 L184.50,182.64 L185.00,183.15 L185.50,183.65 L186.00,184.14 L186.50,184.63 L187.00,185.11 L187.50,185.59 L188.00,186.07 L188.50,186.54 L189.00,187.01 L189.50,187.47 L190.00,187.93 L190.50,188.38 L191.00,188.83 L191.50,189.28 L192.00,189.72 L192.50,190.15 L193.00,190.59 L193.50,191.01 L194.00,191.44 L194.50,191.86 L195.00,192.27 L195.50,192.69 L196.00,193.09 L196.50,193.50 L197.00,193.90 L197.50,194.30 L198.00,194.69 L198.50,195.08 L199.00,195.47 L199.50,195.85 L200.00,196.23 L200.50,196.60 L201.00,196.97 L201.50,197.34 L202.00,197.70 L202.50,198.07 L203.00,198.42 L203.50,198.78 L204.00,199.13 L204.50,199.48 L205.00,199.82 L205.50,200.16 L206.00,200.50 L206.50,200.83 L207.00,201.17 L207.50,201.49 L208.00,201.82 L208.50,202.14 L209.00,202.46 L209.50,202.78 L210.00,203.09 L210.50,203.40 L211.00,203.71 L211.50,204.01 L212.00,204.32 L212.50,204.61 L213.00,204.91 L213.50,205.20 L214.00,205.49 L214.50,205.78 L215.00,206.07 L215.50,206.35 L216.00,206.63 L216.50,206.91 L217.00,207.18 L217.50,207.46 L218.00,207.73 L218.50,207.99 L219.00,208.26 L219.50,208.52 L220.00,208.78 L220.50,209.04 L221.00,209.29 L221.50,209.55 L222.00,209.80 L222.50,210.05 L223.00,210.29 L223.50,210.53 L224.00,210.78 L224.50,211.02 L225.00,211.25 L225.50,211.49 L226.00,211.72 L226.50,211.95 L227.00,212.18 L227.50,212.41 L228.00,212.63 L228.50,212.85 L229.00,213.07 L229.50,213.29 L230.00,213.51 L230.50,213.72 L231.00,213.94 L231.50,214.15 L232.00,214.35 L232.50,214.56 L233.00,214.77 L233.50,214.97 L234.00,215.17 L234.50,215.37 L235.00,215.57 L235.50,215.76 L236.00,215.96 L236.50,216.15 L237.00,216.34 L237.50,216.53 L238.00,216.72 L238.50,216.90 L239.00,217.09 L239.50,217.27 L240.00,217.45 L240.50,217.63 L241.00,217.81 L241.50,217.98 L242.00,218.16 L242.50,218.33 L243.00,218.50 L243.50,218.67 L244.00,218.84 L244.50,219.00 L245.00,219.17 L245.50,219.33 L246.00,219.50 L246.50,219.66 L247.00,219.82 L247.50,219.97 L248.00,220.13 L248.50,220.29 L249.00,220.44 L249.50,220.59 L250.00,220.74 L250.50,220.89 L251.00,221.04 L251.50,221.19 L252.00,221.34 L252.50,221.48 L253.00,221.62 L253.50,221.77 L254.00,221.91 L254.50,222.05 L255.00,222.19 L255.50,222.32 L256.00,222.46 L256.50,222.59 L257.00,222.73 L257.50,222.86 L258.00,222.99 L258.50,223.12 L259.00,223.25 L259.50,223.38 L260.00,223.51 L260.50,223.63 L261.00,223.76 L261.50,223.88 L262.00,224.00 L262.50,224.13 L263.00,224.25 L263.50,224.37 L264.00,224.49 L264.50,224.60 L265.00,224.72 L265.50,224.84 L266.00,224.95 L266.50,225.06 L267.00,225.18 L267.50,225.29 L268.00,225.40 L268.50,225.51 L269.00,225.62 L269.50,225.73 L270.00,225.83 L270.50,225.94 L271.00,226.04 L271.50,226.15 L272.00,226.25 L272.50,226.36 L273.00,226.46 L273.50,226.56 L274.00,226.66 L274.50,226.76 L275.00,226.86 L275.50,226.95 L276.00,227.05 L276.50,227.15 L277.00,227.24 L277.50,227.34 L278.00,227.43 L278.50,227.52 L279.00,227.62 L279.50,227.71 L280.00,227.80 L280.50,227.89 L281.00,227.98 L281.50,228.07 L282.00,228.15 L282.50,228.24 L283.00,228.33 L283.50,228.41 L284.00,228.50 L284.50,228.58 L285.00,228.66 L285.50,228.75 L286.00,228.83 L286.50,228.91 L287.00,228.99 L287.50,229.07 L288.00,229.15 L288.50,229.23 L289.00,229.31 L289.50,229.39 L290.00,229.46 L290.50,229.54 L291.00,229.61 L291.50,229.69 L292.00,229.76 L292.50,229.84 L293.00,229.91 L293.50,229.98 L294.00,230.06 L294.50,230.13 L295.00,230.20 L295.50,230.27 L296.00,230.34 L296.50,230.41 L297.00,230.48 L297.50,230.55 L298.00,230.61 L298.50,230.68 L299.00,230.75 L299.50,230.81 L300.00,230.88 L300.50,230.94 L301.00,231.01 L301.50,231.07 L302.00,231.14 L302.50,231.20 L303.00,231.26 L303.50,231.32 L304.00,231.38 L304.50,231.45 L305.00,231.51 L305.50,231.57 L306.00,231.63 L306.50,231.68 L307.00,231.74 L307.50,231.80 L308.00,231.86 L308.50,231.92 L309.00,231.97 L309.50,232.03 L310.00,232.09 L310.50,232.14 L311.00,232.20 L311.50,232.25 L312.00,232.31 L312.50,232.36 L313.00,232.41 L313.50,232.47 L314.00,232.52 L314.50,232.57 L315.00,232.62 L315.50,232.67 L316.00,232.73 L316.50,232.78 L317.00,232.83 L317.50,232.88 L318.00,232.93 L318.50,232.97 L319.00,233.02 L319.50,233.07 L320.00,233.12 L320.50,233.17 L321.00,233.21 L321.50,233.26 L322.00,233.31 L322.50,233.35 L323.00,233.40 L323.50,233.45 L324.00,233.49 L324.50,233.54 L325.00,233.58 L325.50,233.62 L326.00,233.67 L326.50,233.71 L327.00,233.75 L327.50,233.80 L328.00,233.84 L328.50,233.88 L329.00,233.92 L329.50,233.97 L330.00,234.01 L330.50,234.05 L331.00,234.09 L331.50,234.13 L332.00,234.17 L332.50,234.21 L333.00,234.25 L333.50,234.29 L334.00,234.33 L334.50,234.36 L335.00,234.40 L335.50,234.44 L336.00,234.48 L336.50,234.52 L337.00,234.55 L337.50,234.59 L338.00,234.63 L338.50,234.66 L339.00,234.70 L339.50,234.73 L340.00,234.77 L340.50,234.81 L341.00,234.84 L341.50,234.88 L342.00,234.91 L342.50,234.94 L343.00,234.98 L343.50,235.01 L344.00,235.05 L344.50,235.08 L345.00,235.11 L345.50,235.14 L346.00,235.18 L346.50,235.21 L347.00,235.24 L347.50,235.27 L348.00,235.31 L348.50,235.34 L349.00,235.37 L349.50,235.40 L350.00,235.43 L350.50,235.46 L351.00,235.49 L351.50,235.52 L352.00,235.55 L352.50,235.58 L353.00,235.61 L353.50,235.64 L354.00,235.67 L354.50,235.70 L355.00,235.73 L355.50,235.75 L356.00,235.78 L356.50,235.81 L357.00,235.84 L357.50,235.87 L358.00,235.89 L358.50,235.92 L359.00,235.95 L359.50,235.97 L360.00,236.00 L360.50,236.03 L361.00,236.05 L361.50,236.08 L362.00,236.11 L362.50,236.13 L363.00,236.16 L363.50,236.18 L364.00,236.21 L364.50,236.23 L365.00,236.26 L365.50,236.28 L366.00,236.31 L366.50,236.33 L367.00,236.36 L367.50,236.38 L368.00,236.40 L368.50,236.43 L369.00,236.45 L369.50,236.47 L370.00,236.50 L370.50,236.52 L371.00,236.54 L371.50,236.57 L372.00,236.59 L372.50,236.61 L373.00,236.63 L373.50,236.65 L374.00,236.68 L374.50,236.70 L375.00,236.72 L375.50,236.74 L376.00,236.76 L376.50,236.78 L377.00,236.81 L377.50,236.83 L378.00,236.85 L378.50,236.87 L379.00,236.89 L379.50,236.91 L380.00,236.93 L380.50,236.95 L381.00,236.97 L381.50,236.99 L382.00,237.01 L382.50,237.03 L383.00,237.05 L383.50,237.07 L384.00,237.09 L384.50,237.10 L385.00,237.12 L385.50,237.14 L386.00,237.16 L386.50,237.18 L387.00,237.20 L387.50,237.22 L388.00,237.23 L388.50,237.25 L389.00,237.27 L389.50,237.29 L390.00,237.31 L390.50,237.32 L391.00,237.34 L391.50,237.36 L392.00,237.38 L392.50,237.39 L393.00,237.41 L393.50,237.43 L394.00,237.44 L394.50,237.46 L395.00,237.48 L395.50,237.49 L396.00,237.51 L396.50,237.53 L397.00,237.54 L397.50,237.56 L398.00,237.57 L398.50,237.59 L399.00,237.60 L399.50,237.62 L400.00,237.64 L400.50,237.65 L401.00,237.67 L401.50,237.68 L402.00,237.70 L402.50,237.71 L403.00,237.73 L403.50,237.74 L404.00,237.76 L404.50,237.77 L405.00,237.79 L405.50,237.80 L406.00,237.81 L406.50,237.83 L407.00,237.84 L407.50,237.86 L408.00,237.87 L408.50,237.88 L409.00,237.90 L409.50,237.91 L410.00,237.93 L410.50,237.94 L411.00,237.95 L411.50,237.97 L412.00,237.98 L412.50,237.99 L413.00,238.01 L413.50,238.02 L414.00,238.03 L414.50,238.04 L415.00,238.06 L415.50,238.07 L416.00,238.08 L416.50,238.09 L417.00,238.11 L417.50,238.12 L418.00,238.13 L418.50,238.14 L419.00,238.16 L419.50,238.17 L420.00,238.18 L420.50,238.19 L421.00,238.20 L421.50,238.22 L422.00,238.23 L422.50,238.24 L423.00,238.25 L423.50,238.26 L424.00,238.27 L424.50,238.28 L425.00,238.30 L425.50,238.31 L426.00,238.32 L426.50,238.33 L427.00,238.34 L427.50,238.35 L428.00,238.36 L428.50,238.37 L429.00,238.38 L429.50,238.39 L430.00,238.40 L430.50,238.42 L431.00,238.43 L431.50,238.44 L432.00,238.45 L432.50,238.46 L433.00,238.47 L433.50,238.48 L434.00,238.49 L434.50,238.50 L435.00,238.51 L435.50,238.52 L436.00,238.53 L436.50,238.54 L437.00,238.55 L437.50,238.56 L438.00,238.57 L438.50,238.57 L439.00,238.58 L439.50,238.59 L439.90,238.60" fill="none" stroke="#237dcd" stroke-width="2.0" stroke-linejoin="round" stroke-dasharray="2.9,1.45"/>
<text x="42" y="245.60" font-size="18.5" text-anchor="end">0</text>
<text x="42" y="189.60" font-size="18.5" text-anchor="end">10</text>
<text x="42" y="133.60" font-size="18.5" text-anchor="end">20</text>
<text x="42" y="77.60" font-size="18.5" text-anchor="end">30</text>
<text x="42" y="21.60" font-size="18.5" text-anchor="end">40</text>
<text x="61.7" y="265" font-size="18.5">0.02</text>
<line x1="49.6" y1="260.0" x2="59.0" y2="260.0" stroke="#000" stroke-width="1.05"/>
<text x="144.50" y="265" font-size="18.5" text-anchor="middle">0.00</text>
<text x="218.08" y="265" font-size="18.5" text-anchor="middle">0.02</text>
<text x="291.66" y="265" font-size="18.5" text-anchor="middle">0.04</text>
<text x="365.24" y="265" font-size="18.5" text-anchor="middle">0.06</text>
<text x="438.82" y="265" font-size="18.5" text-anchor="middle">0.08</text>
<text transform="translate(12.8,123.4) rotate(-90)" font-size="17.8" letter-spacing="0.5" text-anchor="middle">PDF</text>
<text x="246.2" y="288.4" font-size="15.8" text-anchor="middle" class="kap">κ</text>
<line x1="351" y1="15.50" x2="369.3" y2="15.50" stroke="#ff0505" stroke-width="2.05"/>
<text x="377.4" y="20.60" font-size="17.3" textLength="56.6" lengthAdjust="spacingAndGlyphs">turboGL</text>
<line x1="351" y1="43.65" x2="369.3" y2="43.65" stroke="#3c910a" stroke-width="2.05"/>
<text x="377.4" y="49.30" font-size="17.3" textLength="51.8" lengthAdjust="spacingAndGlyphs">Case (i)</text>
<line x1="351" y1="71.80" x2="369.3" y2="71.80" stroke="#ff7d00" stroke-width="2.05"/>
<text x="377.4" y="77.50" font-size="17.3" textLength="56.6" lengthAdjust="spacingAndGlyphs">Case (ii)</text>
<line x1="351" y1="100.00" x2="369.3" y2="100.00" stroke="#237dcd" stroke-width="2.05" stroke-dasharray="3,1.65"/>
<text x="377.4" y="105.60" font-size="17.3" textLength="60.6" lengthAdjust="spacingAndGlyphs">Case (iii)</text>
</svg></body></html>
